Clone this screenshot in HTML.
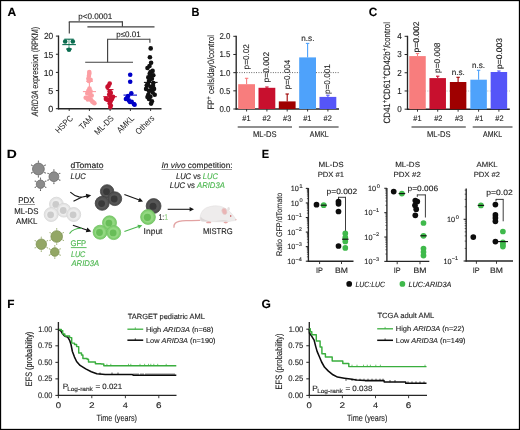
<!DOCTYPE html>
<html><head><meta charset="utf-8"><style>
html,body{margin:0;padding:0;background:#fff;}
body{width:520px;height:430px;overflow:hidden;}
svg{display:block;font-family:"Liberation Sans", sans-serif;will-change:transform;text-rendering:geometricPrecision;}
</style></head><body>
<svg width="520" height="430" viewBox="0 0 520 430">
<rect x="0" y="0" width="520" height="430" fill="#fff"/>
<text x="7.40" y="15.80" font-size="12" fill="#000" stroke="#000" stroke-width="0.12" textLength="8.72" lengthAdjust="spacingAndGlyphs"><tspan font-weight="bold">A</tspan></text>
<text x="191.57" y="15.80" font-size="12" fill="#000" stroke="#000" stroke-width="0.12" textLength="7.93" lengthAdjust="spacingAndGlyphs"><tspan font-weight="bold">B</tspan></text>
<text x="368.72" y="15.80" font-size="12" fill="#000" stroke="#000" stroke-width="0.12" textLength="8.51" lengthAdjust="spacingAndGlyphs"><tspan font-weight="bold">C</tspan></text>
<text x="6.77" y="157.80" font-size="12" fill="#000" stroke="#000" stroke-width="0.12" textLength="10.01" lengthAdjust="spacingAndGlyphs"><tspan font-weight="bold">D</tspan></text>
<text x="261.76" y="157.80" font-size="12" fill="#000" stroke="#000" stroke-width="0.12" textLength="7.37" lengthAdjust="spacingAndGlyphs"><tspan font-weight="bold">E</tspan></text>
<text x="7.31" y="307.70" font-size="12" fill="#000" stroke="#000" stroke-width="0.12" textLength="7.22" lengthAdjust="spacingAndGlyphs"><tspan font-weight="bold">F</tspan></text>
<text x="261.61" y="307.80" font-size="12" fill="#000" stroke="#000" stroke-width="0.12" textLength="9.34" lengthAdjust="spacingAndGlyphs"><tspan font-weight="bold">G</tspan></text>
<line x1="58.50" y1="35.50" x2="58.50" y2="109.30" stroke="#262626" stroke-width="1.35"/>
<line x1="57.90" y1="108.70" x2="161.50" y2="108.70" stroke="#262626" stroke-width="1.35"/>
<line x1="55.90" y1="108.70" x2="58.50" y2="108.70" stroke="#262626" stroke-width="1.0"/>
<text x="48.25" y="111.95" font-size="8.8" fill="#1e1e1e" stroke="#1e1e1e" stroke-width="0.12" textLength="5.00" lengthAdjust="spacingAndGlyphs">0</text>
<line x1="55.90" y1="90.55" x2="58.50" y2="90.55" stroke="#262626" stroke-width="1.0"/>
<text x="48.24" y="93.80" font-size="8.8" fill="#1e1e1e" stroke="#1e1e1e" stroke-width="0.12" textLength="5.04" lengthAdjust="spacingAndGlyphs">5</text>
<line x1="55.90" y1="72.40" x2="58.50" y2="72.40" stroke="#262626" stroke-width="1.0"/>
<text x="43.64" y="75.65" font-size="8.8" fill="#1e1e1e" stroke="#1e1e1e" stroke-width="0.12" textLength="9.59" lengthAdjust="spacingAndGlyphs">10</text>
<line x1="55.90" y1="54.25" x2="58.50" y2="54.25" stroke="#262626" stroke-width="1.0"/>
<text x="43.64" y="57.50" font-size="8.8" fill="#1e1e1e" stroke="#1e1e1e" stroke-width="0.12" textLength="9.62" lengthAdjust="spacingAndGlyphs">15</text>
<line x1="55.90" y1="36.10" x2="58.50" y2="36.10" stroke="#262626" stroke-width="1.0"/>
<text x="43.88" y="39.35" font-size="8.8" fill="#1e1e1e" stroke="#1e1e1e" stroke-width="0.12" textLength="9.35" lengthAdjust="spacingAndGlyphs">20</text>
<line x1="69.20" y1="108.70" x2="69.20" y2="111.00" stroke="#262626" stroke-width="0.9"/>
<line x1="89.40" y1="108.70" x2="89.40" y2="111.00" stroke="#262626" stroke-width="0.9"/>
<line x1="110.10" y1="108.70" x2="110.10" y2="111.00" stroke="#262626" stroke-width="0.9"/>
<line x1="130.40" y1="108.70" x2="130.40" y2="111.00" stroke="#262626" stroke-width="0.9"/>
<line x1="150.60" y1="108.70" x2="150.60" y2="111.00" stroke="#262626" stroke-width="0.9"/>
<text x="0" y="0" font-size="8.6" fill="#1e1e1e" text-anchor="end" textLength="21.03" lengthAdjust="spacingAndGlyphs" transform="translate(73.50 118.90) rotate(-45)">HSPC</text>
<text x="0" y="0" font-size="8.6" fill="#1e1e1e" text-anchor="end" textLength="15.97" lengthAdjust="spacingAndGlyphs" transform="translate(93.70 118.90) rotate(-45)">TAM</text>
<text x="0" y="0" font-size="8.6" fill="#1e1e1e" text-anchor="end" textLength="23.55" lengthAdjust="spacingAndGlyphs" transform="translate(114.40 118.90) rotate(-45)">ML-DS</text>
<text x="0" y="0" font-size="8.6" fill="#1e1e1e" text-anchor="end" textLength="20.61" lengthAdjust="spacingAndGlyphs" transform="translate(134.70 118.90) rotate(-45)">AMKL</text>
<text x="0" y="0" font-size="8.6" fill="#1e1e1e" text-anchor="end" textLength="22.71" lengthAdjust="spacingAndGlyphs" transform="translate(154.90 118.90) rotate(-45)">Others</text>
<text x="0.35" y="0" font-size="9.3" fill="#1e1e1e" stroke="#1e1e1e" stroke-width="0.12" textLength="89.49" lengthAdjust="spacingAndGlyphs" transform="translate(38.00 116.70) rotate(-90)"><tspan font-style="italic">ARID3A</tspan> expression (RPKM)</text>
<line x1="69.30" y1="33.60" x2="69.30" y2="21.90" stroke="#404040" stroke-width="1.15"/>
<line x1="68.75" y1="21.90" x2="122.40" y2="21.90" stroke="#404040" stroke-width="1.15"/>
<line x1="122.40" y1="21.35" x2="122.40" y2="26.80" stroke="#404040" stroke-width="1.15"/>
<line x1="87.40" y1="26.80" x2="154.50" y2="26.80" stroke="#404040" stroke-width="1.15"/>
<text x="78.28" y="19.40" font-size="8.0" fill="#1e1e1e" stroke="#1e1e1e" stroke-width="0.12" textLength="34.12" lengthAdjust="spacingAndGlyphs">p&lt;0.0001</text>
<line x1="85.20" y1="62.20" x2="133.00" y2="62.20" stroke="#404040" stroke-width="1.15"/>
<line x1="107.60" y1="62.20" x2="107.60" y2="39.20" stroke="#404040" stroke-width="1.15"/>
<line x1="107.05" y1="39.20" x2="149.90" y2="39.20" stroke="#404040" stroke-width="1.15"/>
<line x1="149.90" y1="38.65" x2="149.90" y2="42.80" stroke="#404040" stroke-width="1.15"/>
<text x="116.18" y="36.70" font-size="8.0" fill="#1e1e1e" stroke="#1e1e1e" stroke-width="0.12" textLength="24.51" lengthAdjust="spacingAndGlyphs">p≤0.01</text>
<line x1="69.00" y1="39.10" x2="69.00" y2="49.60" stroke="#6fa894" stroke-width="1.1"/>
<line x1="64.30" y1="39.20" x2="73.70" y2="39.20" stroke="#0b6d50" stroke-width="1.1"/>
<circle cx="65.20" cy="41.50" r="2.3" fill="#0b6d50" stroke="none" stroke-width="0"/>
<circle cx="72.80" cy="41.50" r="2.3" fill="#0b6d50" stroke="none" stroke-width="0"/>
<circle cx="69.00" cy="49.80" r="2.3" fill="#0b6d50" stroke="none" stroke-width="0"/>
<line x1="66.00" y1="49.00" x2="72.00" y2="49.00" stroke="#0b6d50" stroke-width="1.1"/>
<line x1="62.30" y1="44.60" x2="75.90" y2="44.60" stroke="#0b6d50" stroke-width="1.1"/>
<line x1="89.40" y1="81.40" x2="89.40" y2="100.00" stroke="#fc9ea3" stroke-width="1.1"/>
<line x1="86.20" y1="81.40" x2="92.80" y2="81.40" stroke="#fc9ea3" stroke-width="1.1"/>
<circle cx="89.30" cy="72.10" r="2.3" fill="#fc9ea3" stroke="none" stroke-width="0"/>
<circle cx="89.30" cy="73.80" r="2.3" fill="#fc9ea3" stroke="none" stroke-width="0"/>
<circle cx="88.90" cy="75.90" r="2.3" fill="#fc9ea3" stroke="none" stroke-width="0"/>
<circle cx="88.40" cy="78.70" r="2.3" fill="#fc9ea3" stroke="none" stroke-width="0"/>
<circle cx="90.60" cy="79.80" r="2.3" fill="#fc9ea3" stroke="none" stroke-width="0"/>
<circle cx="88.90" cy="80.90" r="2.3" fill="#fc9ea3" stroke="none" stroke-width="0"/>
<circle cx="89.50" cy="88.50" r="2.3" fill="#fc9ea3" stroke="none" stroke-width="0"/>
<circle cx="88.40" cy="90.70" r="2.3" fill="#fc9ea3" stroke="none" stroke-width="0"/>
<circle cx="90.60" cy="91.30" r="2.3" fill="#fc9ea3" stroke="none" stroke-width="0"/>
<circle cx="87.30" cy="93.40" r="2.3" fill="#fc9ea3" stroke="none" stroke-width="0"/>
<circle cx="90.00" cy="94.00" r="2.3" fill="#fc9ea3" stroke="none" stroke-width="0"/>
<circle cx="91.70" cy="95.60" r="2.3" fill="#fc9ea3" stroke="none" stroke-width="0"/>
<circle cx="85.70" cy="97.80" r="2.3" fill="#fc9ea3" stroke="none" stroke-width="0"/>
<circle cx="88.90" cy="97.80" r="2.3" fill="#fc9ea3" stroke="none" stroke-width="0"/>
<circle cx="87.80" cy="99.50" r="2.3" fill="#fc9ea3" stroke="none" stroke-width="0"/>
<circle cx="91.10" cy="100.00" r="2.3" fill="#fc9ea3" stroke="none" stroke-width="0"/>
<circle cx="93.30" cy="102.20" r="2.3" fill="#fc9ea3" stroke="none" stroke-width="0"/>
<circle cx="94.40" cy="103.30" r="2.3" fill="#fc9ea3" stroke="none" stroke-width="0"/>
<circle cx="92.20" cy="101.60" r="2.3" fill="#fc9ea3" stroke="none" stroke-width="0"/>
<line x1="82.90" y1="91.60" x2="96.00" y2="91.60" stroke="#fc9ea3" stroke-width="1.1"/>
<line x1="110.10" y1="89.60" x2="110.10" y2="104.00" stroke="#c8102e" stroke-width="1.1"/>
<line x1="106.50" y1="89.60" x2="113.50" y2="89.60" stroke="#c8102e" stroke-width="1.1"/>
<circle cx="109.70" cy="83.60" r="2.3" fill="#c8102e" stroke="none" stroke-width="0"/>
<circle cx="108.60" cy="85.80" r="2.3" fill="#c8102e" stroke="none" stroke-width="0"/>
<circle cx="107.50" cy="86.90" r="2.3" fill="#c8102e" stroke="none" stroke-width="0"/>
<circle cx="109.70" cy="91.30" r="2.3" fill="#c8102e" stroke="none" stroke-width="0"/>
<circle cx="110.80" cy="92.90" r="2.3" fill="#c8102e" stroke="none" stroke-width="0"/>
<circle cx="109.20" cy="94.50" r="2.3" fill="#c8102e" stroke="none" stroke-width="0"/>
<circle cx="113.00" cy="96.70" r="2.3" fill="#c8102e" stroke="none" stroke-width="0"/>
<circle cx="110.80" cy="97.30" r="2.3" fill="#c8102e" stroke="none" stroke-width="0"/>
<circle cx="105.90" cy="98.90" r="2.3" fill="#c8102e" stroke="none" stroke-width="0"/>
<circle cx="108.10" cy="100.00" r="2.3" fill="#c8102e" stroke="none" stroke-width="0"/>
<circle cx="110.80" cy="101.10" r="2.3" fill="#c8102e" stroke="none" stroke-width="0"/>
<circle cx="109.70" cy="103.30" r="2.3" fill="#c8102e" stroke="none" stroke-width="0"/>
<circle cx="110.80" cy="105.50" r="2.3" fill="#c8102e" stroke="none" stroke-width="0"/>
<circle cx="110.30" cy="107.10" r="2.3" fill="#c8102e" stroke="none" stroke-width="0"/>
<circle cx="107.00" cy="99.50" r="2.3" fill="#c8102e" stroke="none" stroke-width="0"/>
<circle cx="112.00" cy="99.00" r="2.3" fill="#c8102e" stroke="none" stroke-width="0"/>
<line x1="103.20" y1="96.70" x2="116.80" y2="96.70" stroke="#c8102e" stroke-width="1.1"/>
<circle cx="130.20" cy="74.80" r="2.3" fill="#0000c8" stroke="none" stroke-width="0"/>
<circle cx="130.20" cy="81.70" r="2.3" fill="#0000c8" stroke="none" stroke-width="0"/>
<circle cx="131.30" cy="93.20" r="2.3" fill="#0000c8" stroke="none" stroke-width="0"/>
<circle cx="128.10" cy="96.10" r="2.3" fill="#0000c8" stroke="none" stroke-width="0"/>
<circle cx="125.90" cy="99.00" r="2.3" fill="#0000c8" stroke="none" stroke-width="0"/>
<circle cx="128.80" cy="100.40" r="2.3" fill="#0000c8" stroke="none" stroke-width="0"/>
<circle cx="131.70" cy="101.90" r="2.3" fill="#0000c8" stroke="none" stroke-width="0"/>
<circle cx="133.90" cy="104.00" r="2.3" fill="#0000c8" stroke="none" stroke-width="0"/>
<circle cx="134.60" cy="104.80" r="2.3" fill="#0000c8" stroke="none" stroke-width="0"/>
<circle cx="127.00" cy="98.00" r="2.3" fill="#0000c8" stroke="none" stroke-width="0"/>
<circle cx="130.00" cy="102.00" r="2.3" fill="#0000c8" stroke="none" stroke-width="0"/>
<line x1="123.50" y1="95.10" x2="137.00" y2="95.10" stroke="#0000c8" stroke-width="1.1"/>
<circle cx="150.70" cy="48.40" r="2.3" fill="#111" stroke="none" stroke-width="0"/>
<circle cx="149.90" cy="57.20" r="2.3" fill="#111" stroke="none" stroke-width="0"/>
<circle cx="151.10" cy="62.70" r="2.3" fill="#111" stroke="none" stroke-width="0"/>
<circle cx="147.50" cy="68.00" r="2.3" fill="#111" stroke="none" stroke-width="0"/>
<circle cx="152.60" cy="70.90" r="2.3" fill="#111" stroke="none" stroke-width="0"/>
<circle cx="149.70" cy="73.80" r="2.3" fill="#111" stroke="none" stroke-width="0"/>
<circle cx="153.30" cy="75.20" r="2.3" fill="#111" stroke="none" stroke-width="0"/>
<circle cx="148.30" cy="77.40" r="2.3" fill="#111" stroke="none" stroke-width="0"/>
<circle cx="151.90" cy="78.80" r="2.3" fill="#111" stroke="none" stroke-width="0"/>
<circle cx="149.00" cy="81.00" r="2.3" fill="#111" stroke="none" stroke-width="0"/>
<circle cx="153.30" cy="83.10" r="2.3" fill="#111" stroke="none" stroke-width="0"/>
<circle cx="146.80" cy="85.30" r="2.3" fill="#111" stroke="none" stroke-width="0"/>
<circle cx="150.40" cy="86.70" r="2.3" fill="#111" stroke="none" stroke-width="0"/>
<circle cx="146.10" cy="88.90" r="2.3" fill="#111" stroke="none" stroke-width="0"/>
<circle cx="154.00" cy="88.90" r="2.3" fill="#111" stroke="none" stroke-width="0"/>
<circle cx="149.00" cy="91.10" r="2.3" fill="#111" stroke="none" stroke-width="0"/>
<circle cx="152.60" cy="92.50" r="2.3" fill="#111" stroke="none" stroke-width="0"/>
<circle cx="148.30" cy="94.70" r="2.3" fill="#111" stroke="none" stroke-width="0"/>
<circle cx="154.70" cy="94.70" r="2.3" fill="#111" stroke="none" stroke-width="0"/>
<circle cx="150.40" cy="96.80" r="2.3" fill="#111" stroke="none" stroke-width="0"/>
<circle cx="149.00" cy="99.00" r="2.3" fill="#111" stroke="none" stroke-width="0"/>
<circle cx="151.90" cy="101.20" r="2.3" fill="#111" stroke="none" stroke-width="0"/>
<circle cx="151.10" cy="103.60" r="2.3" fill="#111" stroke="none" stroke-width="0"/>
<circle cx="150.00" cy="79.00" r="2.3" fill="#111" stroke="none" stroke-width="0"/>
<circle cx="152.00" cy="90.00" r="2.3" fill="#111" stroke="none" stroke-width="0"/>
<circle cx="148.00" cy="84.00" r="2.3" fill="#111" stroke="none" stroke-width="0"/>
<circle cx="150.50" cy="72.00" r="2.3" fill="#111" stroke="none" stroke-width="0"/>
<circle cx="147.50" cy="97.00" r="2.3" fill="#111" stroke="none" stroke-width="0"/>
<circle cx="153.00" cy="86.00" r="2.3" fill="#111" stroke="none" stroke-width="0"/>
<circle cx="149.50" cy="66.00" r="2.3" fill="#111" stroke="none" stroke-width="0"/>
<circle cx="151.00" cy="75.00" r="2.3" fill="#111" stroke="none" stroke-width="0"/>
<line x1="143.90" y1="82.40" x2="157.60" y2="82.40" stroke="#111" stroke-width="1.1"/>
<line x1="236.20" y1="35.80" x2="236.20" y2="109.60" stroke="#262626" stroke-width="1.35"/>
<line x1="235.60" y1="109.00" x2="339.00" y2="109.00" stroke="#262626" stroke-width="1.35"/>
<line x1="233.30" y1="109.00" x2="236.20" y2="109.00" stroke="#262626" stroke-width="1.0"/>
<text x="219.42" y="111.90" font-size="8.5" fill="#1e1e1e" stroke="#1e1e1e" stroke-width="0.12" textLength="10.99" lengthAdjust="spacingAndGlyphs">0.0</text>
<line x1="233.30" y1="90.83" x2="236.20" y2="90.83" stroke="#262626" stroke-width="1.0"/>
<text x="219.44" y="93.73" font-size="8.5" fill="#1e1e1e" stroke="#1e1e1e" stroke-width="0.12" textLength="10.99" lengthAdjust="spacingAndGlyphs">0.5</text>
<line x1="233.30" y1="72.65" x2="236.20" y2="72.65" stroke="#262626" stroke-width="1.0"/>
<text x="219.42" y="75.55" font-size="8.5" fill="#1e1e1e" stroke="#1e1e1e" stroke-width="0.12" textLength="10.99" lengthAdjust="spacingAndGlyphs">1.0</text>
<line x1="233.30" y1="54.47" x2="236.20" y2="54.47" stroke="#262626" stroke-width="1.0"/>
<text x="219.44" y="57.37" font-size="8.5" fill="#1e1e1e" stroke="#1e1e1e" stroke-width="0.12" textLength="10.99" lengthAdjust="spacingAndGlyphs">1.5</text>
<line x1="233.30" y1="36.30" x2="236.20" y2="36.30" stroke="#262626" stroke-width="1.0"/>
<text x="219.42" y="39.20" font-size="8.5" fill="#1e1e1e" stroke="#1e1e1e" stroke-width="0.12" textLength="10.99" lengthAdjust="spacingAndGlyphs">2.0</text>
<line x1="236.90" y1="72.60" x2="339.00" y2="72.60" stroke="#444" stroke-width="0.9" stroke-dasharray="0.9 1.5"/>
<rect x="238.20" y="84.20" width="16.80" height="24.80" fill="#f87d7d"/>
<line x1="246.60" y1="78.30" x2="246.60" y2="84.20" stroke="#f87d7d" stroke-width="1.1"/>
<line x1="244.90" y1="78.30" x2="248.30" y2="78.30" stroke="#f87d7d" stroke-width="1.1"/>
<line x1="246.60" y1="109.00" x2="246.60" y2="111.50" stroke="#262626" stroke-width="0.9"/>
<rect x="258.50" y="87.80" width="16.80" height="21.20" fill="#c8102e"/>
<line x1="266.90" y1="87.00" x2="266.90" y2="87.80" stroke="#c8102e" stroke-width="1.1"/>
<line x1="265.20" y1="87.00" x2="268.60" y2="87.00" stroke="#c8102e" stroke-width="1.1"/>
<line x1="266.90" y1="109.00" x2="266.90" y2="111.50" stroke="#262626" stroke-width="0.9"/>
<rect x="278.80" y="101.40" width="16.80" height="7.60" fill="#9f0000"/>
<line x1="287.20" y1="94.00" x2="287.20" y2="101.40" stroke="#9f0000" stroke-width="1.1"/>
<line x1="285.50" y1="94.00" x2="288.90" y2="94.00" stroke="#9f0000" stroke-width="1.1"/>
<line x1="287.20" y1="109.00" x2="287.20" y2="111.50" stroke="#262626" stroke-width="0.9"/>
<rect x="299.20" y="57.40" width="16.80" height="51.60" fill="#4ea2fb"/>
<line x1="307.60" y1="43.40" x2="307.60" y2="57.40" stroke="#4ea2fb" stroke-width="1.1"/>
<line x1="305.90" y1="43.40" x2="309.30" y2="43.40" stroke="#4ea2fb" stroke-width="1.1"/>
<line x1="307.60" y1="109.00" x2="307.60" y2="111.50" stroke="#262626" stroke-width="0.9"/>
<rect x="319.50" y="96.90" width="16.80" height="12.10" fill="#5555f8"/>
<line x1="327.90" y1="95.20" x2="327.90" y2="96.90" stroke="#5555f8" stroke-width="1.1"/>
<line x1="326.20" y1="95.20" x2="329.60" y2="95.20" stroke="#5555f8" stroke-width="1.1"/>
<line x1="327.90" y1="109.00" x2="327.90" y2="111.50" stroke="#262626" stroke-width="0.9"/>
<text x="242.37" y="121.00" font-size="8.0" fill="#1e1e1e" stroke="#1e1e1e" stroke-width="0.12" textLength="8.19" lengthAdjust="spacingAndGlyphs">#1</text>
<text x="262.57" y="121.00" font-size="8.0" fill="#1e1e1e" stroke="#1e1e1e" stroke-width="0.12" textLength="8.20" lengthAdjust="spacingAndGlyphs">#2</text>
<text x="283.07" y="121.00" font-size="8.0" fill="#1e1e1e" stroke="#1e1e1e" stroke-width="0.12" textLength="8.15" lengthAdjust="spacingAndGlyphs">#3</text>
<text x="303.27" y="121.00" font-size="8.0" fill="#1e1e1e" stroke="#1e1e1e" stroke-width="0.12" textLength="8.19" lengthAdjust="spacingAndGlyphs">#1</text>
<text x="323.57" y="121.00" font-size="8.0" fill="#1e1e1e" stroke="#1e1e1e" stroke-width="0.12" textLength="8.20" lengthAdjust="spacingAndGlyphs">#2</text>
<line x1="237.70" y1="127.00" x2="292.00" y2="127.00" stroke="#6a6a6a" stroke-width="1.5"/>
<line x1="298.90" y1="127.00" x2="338.60" y2="127.00" stroke="#6a6a6a" stroke-width="1.5"/>
<text x="252.88" y="136.50" font-size="8.2" fill="#1e1e1e" stroke="#1e1e1e" stroke-width="0.12" textLength="23.67" lengthAdjust="spacingAndGlyphs">ML-DS</text>
<text x="309.79" y="136.50" font-size="8.2" fill="#1e1e1e" stroke="#1e1e1e" stroke-width="0.12" textLength="18.94" lengthAdjust="spacingAndGlyphs">AMKL</text>
<text x="-0.53" y="0" font-size="8.2" fill="#1e1e1e" stroke="#1e1e1e" stroke-width="0.12" textLength="25.34" lengthAdjust="spacingAndGlyphs" transform="translate(249.10 68.90) rotate(-90)">p=0.02</text>
<text x="-0.54" y="0" font-size="8.2" fill="#1e1e1e" stroke="#1e1e1e" stroke-width="0.12" textLength="30.67" lengthAdjust="spacingAndGlyphs" transform="translate(269.40 81.90) rotate(-90)">p=0.002</text>
<text x="-0.52" y="0" font-size="8.2" fill="#1e1e1e" stroke="#1e1e1e" stroke-width="0.12" textLength="29.56" lengthAdjust="spacingAndGlyphs" transform="translate(289.80 88.80) rotate(-90)">p=0.004</text>
<text x="-0.53" y="0" font-size="8.2" fill="#1e1e1e" stroke="#1e1e1e" stroke-width="0.12" textLength="29.93" lengthAdjust="spacingAndGlyphs" transform="translate(329.80 93.50) rotate(-90)">p=0.001</text>
<text x="301.26" y="41.10" font-size="8.2" fill="#1e1e1e" stroke="#1e1e1e" stroke-width="0.12" textLength="13.19" lengthAdjust="spacingAndGlyphs">n.s.</text>
<text x="-0.63" y="0" font-size="9.2" fill="#1e1e1e" stroke="#1e1e1e" stroke-width="0.12" textLength="74.54" lengthAdjust="spacingAndGlyphs" transform="translate(213.80 108.90) rotate(-90)">FP<tspan font-size="7.18" dy="-3.30">+</tspan><tspan dy="3.30"> cells/day0/control</tspan></text>
<line x1="407.50" y1="35.80" x2="407.50" y2="109.80" stroke="#262626" stroke-width="1.35"/>
<line x1="406.90" y1="109.20" x2="509.80" y2="109.20" stroke="#262626" stroke-width="1.35"/>
<line x1="404.60" y1="109.20" x2="407.50" y2="109.20" stroke="#262626" stroke-width="1.0"/>
<text x="397.22" y="112.10" font-size="8.7" fill="#1e1e1e" stroke="#1e1e1e" stroke-width="0.12" textLength="4.50" lengthAdjust="spacingAndGlyphs">0</text>
<line x1="404.60" y1="90.97" x2="407.50" y2="90.97" stroke="#262626" stroke-width="1.0"/>
<text x="397.30" y="93.88" font-size="8.7" fill="#1e1e1e" stroke="#1e1e1e" stroke-width="0.12" textLength="4.50" lengthAdjust="spacingAndGlyphs">1</text>
<line x1="404.60" y1="72.75" x2="407.50" y2="72.75" stroke="#262626" stroke-width="1.0"/>
<text x="397.31" y="75.65" font-size="8.7" fill="#1e1e1e" stroke="#1e1e1e" stroke-width="0.12" textLength="4.50" lengthAdjust="spacingAndGlyphs">2</text>
<line x1="404.60" y1="54.52" x2="407.50" y2="54.52" stroke="#262626" stroke-width="1.0"/>
<text x="397.26" y="57.42" font-size="8.7" fill="#1e1e1e" stroke="#1e1e1e" stroke-width="0.12" textLength="4.50" lengthAdjust="spacingAndGlyphs">3</text>
<line x1="404.60" y1="36.30" x2="407.50" y2="36.30" stroke="#262626" stroke-width="1.0"/>
<text x="397.14" y="39.20" font-size="8.7" fill="#1e1e1e" stroke="#1e1e1e" stroke-width="0.12" textLength="4.50" lengthAdjust="spacingAndGlyphs">4</text>
<line x1="408.20" y1="91.00" x2="509.80" y2="91.00" stroke="#aaa" stroke-width="0.9" stroke-dasharray="0.9 1.5"/>
<rect x="409.25" y="56.10" width="16.50" height="53.10" fill="#f87d7d"/>
<line x1="417.50" y1="53.50" x2="417.50" y2="56.10" stroke="#f87d7d" stroke-width="1.1"/>
<line x1="415.80" y1="53.50" x2="419.20" y2="53.50" stroke="#f87d7d" stroke-width="1.1"/>
<line x1="417.50" y1="109.20" x2="417.50" y2="111.70" stroke="#262626" stroke-width="0.9"/>
<rect x="429.45" y="78.10" width="16.50" height="31.10" fill="#c8102e"/>
<line x1="437.70" y1="76.20" x2="437.70" y2="78.10" stroke="#c8102e" stroke-width="1.1"/>
<line x1="436.00" y1="76.20" x2="439.40" y2="76.20" stroke="#c8102e" stroke-width="1.1"/>
<line x1="437.70" y1="109.20" x2="437.70" y2="111.70" stroke="#262626" stroke-width="0.9"/>
<rect x="449.85" y="82.00" width="16.50" height="27.20" fill="#9f0000"/>
<line x1="458.10" y1="77.30" x2="458.10" y2="82.00" stroke="#9f0000" stroke-width="1.1"/>
<line x1="456.40" y1="77.30" x2="459.80" y2="77.30" stroke="#9f0000" stroke-width="1.1"/>
<line x1="458.10" y1="109.20" x2="458.10" y2="111.70" stroke="#262626" stroke-width="0.9"/>
<rect x="470.35" y="79.70" width="16.50" height="29.50" fill="#4ea2fb"/>
<line x1="478.60" y1="70.30" x2="478.60" y2="79.70" stroke="#4ea2fb" stroke-width="1.1"/>
<line x1="476.90" y1="70.30" x2="480.30" y2="70.30" stroke="#4ea2fb" stroke-width="1.1"/>
<line x1="478.60" y1="109.20" x2="478.60" y2="111.70" stroke="#262626" stroke-width="0.9"/>
<rect x="490.65" y="72.00" width="16.50" height="37.20" fill="#5555f8"/>
<line x1="498.90" y1="71.00" x2="498.90" y2="72.00" stroke="#5555f8" stroke-width="1.1"/>
<line x1="497.20" y1="71.00" x2="500.60" y2="71.00" stroke="#5555f8" stroke-width="1.1"/>
<line x1="498.90" y1="109.20" x2="498.90" y2="111.70" stroke="#262626" stroke-width="0.9"/>
<text x="413.37" y="121.00" font-size="8.0" fill="#1e1e1e" stroke="#1e1e1e" stroke-width="0.12" textLength="8.19" lengthAdjust="spacingAndGlyphs">#1</text>
<text x="434.17" y="121.00" font-size="8.0" fill="#1e1e1e" stroke="#1e1e1e" stroke-width="0.12" textLength="8.20" lengthAdjust="spacingAndGlyphs">#2</text>
<text x="454.97" y="121.00" font-size="8.0" fill="#1e1e1e" stroke="#1e1e1e" stroke-width="0.12" textLength="8.15" lengthAdjust="spacingAndGlyphs">#3</text>
<text x="475.07" y="121.00" font-size="8.0" fill="#1e1e1e" stroke="#1e1e1e" stroke-width="0.12" textLength="8.19" lengthAdjust="spacingAndGlyphs">#1</text>
<text x="495.37" y="121.00" font-size="8.0" fill="#1e1e1e" stroke="#1e1e1e" stroke-width="0.12" textLength="8.20" lengthAdjust="spacingAndGlyphs">#2</text>
<line x1="411.50" y1="127.00" x2="465.80" y2="127.00" stroke="#6a6a6a" stroke-width="1.5"/>
<line x1="472.70" y1="127.00" x2="512.50" y2="127.00" stroke="#6a6a6a" stroke-width="1.5"/>
<text x="426.98" y="136.50" font-size="8.2" fill="#1e1e1e" stroke="#1e1e1e" stroke-width="0.12" textLength="23.57" lengthAdjust="spacingAndGlyphs">ML-DS</text>
<text x="482.99" y="136.50" font-size="8.2" fill="#1e1e1e" stroke="#1e1e1e" stroke-width="0.12" textLength="19.05" lengthAdjust="spacingAndGlyphs">AMKL</text>
<text x="-0.55" y="0" font-size="8.2" fill="#1e1e1e" stroke="#1e1e1e" stroke-width="0.12" textLength="31.18" lengthAdjust="spacingAndGlyphs" transform="translate(418.60 52.00) rotate(-90)">p=0.002</text>
<text x="-0.54" y="0" font-size="8.2" fill="#1e1e1e" stroke="#1e1e1e" stroke-width="0.12" textLength="30.40" lengthAdjust="spacingAndGlyphs" transform="translate(439.80 72.40) rotate(-90)">p=0.008</text>
<text x="-0.55" y="0" font-size="8.2" fill="#1e1e1e" stroke="#1e1e1e" stroke-width="0.12" textLength="31.13" lengthAdjust="spacingAndGlyphs" transform="translate(501.80 68.50) rotate(-90)">p=0.003</text>
<text x="451.66" y="75.20" font-size="8.2" fill="#1e1e1e" stroke="#1e1e1e" stroke-width="0.12" textLength="13.08" lengthAdjust="spacingAndGlyphs">n.s.</text>
<text x="471.96" y="68.20" font-size="8.2" fill="#1e1e1e" stroke="#1e1e1e" stroke-width="0.12" textLength="13.08" lengthAdjust="spacingAndGlyphs">n.s.</text>
<text x="-0.40" y="0" font-size="9.2" fill="#1e1e1e" stroke="#1e1e1e" stroke-width="0.12" textLength="101.33" lengthAdjust="spacingAndGlyphs" transform="translate(390.00 123.00) rotate(-90)">CD41<tspan font-size="7.18" dy="-3.30">+</tspan><tspan dy="3.30">CD61</tspan><tspan font-size="7.18" dy="-3.30">+</tspan><tspan dy="3.30">CD42b</tspan><tspan font-size="7.18" dy="-3.30">+</tspan><tspan dy="3.30">/control</tspan></text>
<line x1="38.40" y1="163.10" x2="38.40" y2="161.10" stroke="#5e5e5e" stroke-width="0.7"/>
<circle cx="38.40" cy="161.10" r="0.6" fill="#5e5e5e" stroke="none" stroke-width="0"/>
<line x1="33.29" y1="166.05" x2="31.56" y2="165.05" stroke="#5e5e5e" stroke-width="0.7"/>
<circle cx="31.56" cy="165.05" r="0.6" fill="#5e5e5e" stroke="none" stroke-width="0"/>
<line x1="33.29" y1="171.95" x2="31.56" y2="172.95" stroke="#5e5e5e" stroke-width="0.7"/>
<circle cx="31.56" cy="172.95" r="0.6" fill="#5e5e5e" stroke="none" stroke-width="0"/>
<line x1="38.40" y1="174.90" x2="38.40" y2="176.90" stroke="#5e5e5e" stroke-width="0.7"/>
<circle cx="38.40" cy="176.90" r="0.6" fill="#5e5e5e" stroke="none" stroke-width="0"/>
<line x1="43.51" y1="171.95" x2="45.24" y2="172.95" stroke="#5e5e5e" stroke-width="0.7"/>
<circle cx="45.24" cy="172.95" r="0.6" fill="#5e5e5e" stroke="none" stroke-width="0"/>
<line x1="43.51" y1="166.05" x2="45.24" y2="165.05" stroke="#5e5e5e" stroke-width="0.7"/>
<circle cx="45.24" cy="165.05" r="0.6" fill="#5e5e5e" stroke="none" stroke-width="0"/>
<circle cx="38.40" cy="169.00" r="5.9" fill="#8b8b8b" stroke="#6c6c6c" stroke-width="0.8"/>
<line x1="53.90" y1="171.80" x2="53.90" y2="169.80" stroke="#5e5e5e" stroke-width="0.7"/>
<circle cx="53.90" cy="169.80" r="0.6" fill="#5e5e5e" stroke="none" stroke-width="0"/>
<line x1="49.66" y1="174.25" x2="47.92" y2="173.25" stroke="#5e5e5e" stroke-width="0.7"/>
<circle cx="47.92" cy="173.25" r="0.6" fill="#5e5e5e" stroke="none" stroke-width="0"/>
<line x1="49.66" y1="179.15" x2="47.92" y2="180.15" stroke="#5e5e5e" stroke-width="0.7"/>
<circle cx="47.92" cy="180.15" r="0.6" fill="#5e5e5e" stroke="none" stroke-width="0"/>
<line x1="53.90" y1="181.60" x2="53.90" y2="183.60" stroke="#5e5e5e" stroke-width="0.7"/>
<circle cx="53.90" cy="183.60" r="0.6" fill="#5e5e5e" stroke="none" stroke-width="0"/>
<line x1="58.14" y1="179.15" x2="59.88" y2="180.15" stroke="#5e5e5e" stroke-width="0.7"/>
<circle cx="59.88" cy="180.15" r="0.6" fill="#5e5e5e" stroke="none" stroke-width="0"/>
<line x1="58.14" y1="174.25" x2="59.88" y2="173.25" stroke="#5e5e5e" stroke-width="0.7"/>
<circle cx="59.88" cy="173.25" r="0.6" fill="#5e5e5e" stroke="none" stroke-width="0"/>
<circle cx="53.90" cy="176.70" r="4.9" fill="#8b8b8b" stroke="#6c6c6c" stroke-width="0.8"/>
<line x1="40.50" y1="180.00" x2="40.50" y2="178.00" stroke="#5e5e5e" stroke-width="0.7"/>
<circle cx="40.50" cy="178.00" r="0.6" fill="#5e5e5e" stroke="none" stroke-width="0"/>
<line x1="36.86" y1="182.10" x2="35.13" y2="181.10" stroke="#5e5e5e" stroke-width="0.7"/>
<circle cx="35.13" cy="181.10" r="0.6" fill="#5e5e5e" stroke="none" stroke-width="0"/>
<line x1="36.86" y1="186.30" x2="35.13" y2="187.30" stroke="#5e5e5e" stroke-width="0.7"/>
<circle cx="35.13" cy="187.30" r="0.6" fill="#5e5e5e" stroke="none" stroke-width="0"/>
<line x1="40.50" y1="188.40" x2="40.50" y2="190.40" stroke="#5e5e5e" stroke-width="0.7"/>
<circle cx="40.50" cy="190.40" r="0.6" fill="#5e5e5e" stroke="none" stroke-width="0"/>
<line x1="44.14" y1="186.30" x2="45.87" y2="187.30" stroke="#5e5e5e" stroke-width="0.7"/>
<circle cx="45.87" cy="187.30" r="0.6" fill="#5e5e5e" stroke="none" stroke-width="0"/>
<line x1="44.14" y1="182.10" x2="45.87" y2="181.10" stroke="#5e5e5e" stroke-width="0.7"/>
<circle cx="45.87" cy="181.10" r="0.6" fill="#5e5e5e" stroke="none" stroke-width="0"/>
<circle cx="40.50" cy="184.20" r="4.2" fill="#8b8b8b" stroke="#6c6c6c" stroke-width="0.8"/>
<line x1="56.70" y1="230.70" x2="56.70" y2="228.70" stroke="#a9b886" stroke-width="0.7"/>
<circle cx="56.70" cy="228.70" r="0.6" fill="#a9b886" stroke="none" stroke-width="0"/>
<line x1="51.68" y1="233.60" x2="49.95" y2="232.60" stroke="#a9b886" stroke-width="0.7"/>
<circle cx="49.95" cy="232.60" r="0.6" fill="#a9b886" stroke="none" stroke-width="0"/>
<line x1="51.68" y1="239.40" x2="49.95" y2="240.40" stroke="#a9b886" stroke-width="0.7"/>
<circle cx="49.95" cy="240.40" r="0.6" fill="#a9b886" stroke="none" stroke-width="0"/>
<line x1="56.70" y1="242.30" x2="56.70" y2="244.30" stroke="#a9b886" stroke-width="0.7"/>
<circle cx="56.70" cy="244.30" r="0.6" fill="#a9b886" stroke="none" stroke-width="0"/>
<line x1="61.72" y1="239.40" x2="63.45" y2="240.40" stroke="#a9b886" stroke-width="0.7"/>
<circle cx="63.45" cy="240.40" r="0.6" fill="#a9b886" stroke="none" stroke-width="0"/>
<line x1="61.72" y1="233.60" x2="63.45" y2="232.60" stroke="#a9b886" stroke-width="0.7"/>
<circle cx="63.45" cy="232.60" r="0.6" fill="#a9b886" stroke="none" stroke-width="0"/>
<circle cx="56.70" cy="236.50" r="5.8" fill="#93a765" stroke="#7e9353" stroke-width="0.8"/>
<line x1="41.30" y1="239.00" x2="41.30" y2="237.00" stroke="#a9b886" stroke-width="0.7"/>
<circle cx="41.30" cy="237.00" r="0.6" fill="#a9b886" stroke="none" stroke-width="0"/>
<line x1="36.80" y1="241.60" x2="35.06" y2="240.60" stroke="#a9b886" stroke-width="0.7"/>
<circle cx="35.06" cy="240.60" r="0.6" fill="#a9b886" stroke="none" stroke-width="0"/>
<line x1="36.80" y1="246.80" x2="35.06" y2="247.80" stroke="#a9b886" stroke-width="0.7"/>
<circle cx="35.06" cy="247.80" r="0.6" fill="#a9b886" stroke="none" stroke-width="0"/>
<line x1="41.30" y1="249.40" x2="41.30" y2="251.40" stroke="#a9b886" stroke-width="0.7"/>
<circle cx="41.30" cy="251.40" r="0.6" fill="#a9b886" stroke="none" stroke-width="0"/>
<line x1="45.80" y1="246.80" x2="47.54" y2="247.80" stroke="#a9b886" stroke-width="0.7"/>
<circle cx="47.54" cy="247.80" r="0.6" fill="#a9b886" stroke="none" stroke-width="0"/>
<line x1="45.80" y1="241.60" x2="47.54" y2="240.60" stroke="#a9b886" stroke-width="0.7"/>
<circle cx="47.54" cy="240.60" r="0.6" fill="#a9b886" stroke="none" stroke-width="0"/>
<circle cx="41.30" cy="244.20" r="5.2" fill="#93a765" stroke="#7e9353" stroke-width="0.8"/>
<line x1="54.80" y1="247.70" x2="54.80" y2="245.70" stroke="#a9b886" stroke-width="0.7"/>
<circle cx="54.80" cy="245.70" r="0.6" fill="#a9b886" stroke="none" stroke-width="0"/>
<line x1="51.08" y1="249.85" x2="49.34" y2="248.85" stroke="#a9b886" stroke-width="0.7"/>
<circle cx="49.34" cy="248.85" r="0.6" fill="#a9b886" stroke="none" stroke-width="0"/>
<line x1="51.08" y1="254.15" x2="49.34" y2="255.15" stroke="#a9b886" stroke-width="0.7"/>
<circle cx="49.34" cy="255.15" r="0.6" fill="#a9b886" stroke="none" stroke-width="0"/>
<line x1="54.80" y1="256.30" x2="54.80" y2="258.30" stroke="#a9b886" stroke-width="0.7"/>
<circle cx="54.80" cy="258.30" r="0.6" fill="#a9b886" stroke="none" stroke-width="0"/>
<line x1="58.52" y1="254.15" x2="60.26" y2="255.15" stroke="#a9b886" stroke-width="0.7"/>
<circle cx="60.26" cy="255.15" r="0.6" fill="#a9b886" stroke="none" stroke-width="0"/>
<line x1="58.52" y1="249.85" x2="60.26" y2="248.85" stroke="#a9b886" stroke-width="0.7"/>
<circle cx="60.26" cy="248.85" r="0.6" fill="#a9b886" stroke="none" stroke-width="0"/>
<circle cx="54.80" cy="252.00" r="4.3" fill="#93a765" stroke="#7e9353" stroke-width="0.8"/>
<circle cx="56.40" cy="204.10" r="6.9" fill="#e4e4e4" stroke="#d6d6d6" stroke-width="0.8"/>
<circle cx="56.40" cy="204.10" r="5.2" fill="#ededed" stroke="none" stroke-width="0"/>
<circle cx="55.80" cy="204.40" r="3.4" fill="#cbcbcb" stroke="none" stroke-width="0"/>
<circle cx="63.80" cy="210.20" r="6.9" fill="#e4e4e4" stroke="#d6d6d6" stroke-width="0.8"/>
<circle cx="63.80" cy="210.20" r="5.2" fill="#ededed" stroke="none" stroke-width="0"/>
<circle cx="63.20" cy="210.50" r="3.4" fill="#cbcbcb" stroke="none" stroke-width="0"/>
<circle cx="51.20" cy="214.50" r="7" fill="#e4e4e4" stroke="#d6d6d6" stroke-width="0.8"/>
<circle cx="51.20" cy="214.50" r="5.3" fill="#ededed" stroke="none" stroke-width="0"/>
<circle cx="50.60" cy="214.80" r="3.4" fill="#cbcbcb" stroke="none" stroke-width="0"/>
<circle cx="73.70" cy="214.50" r="7" fill="#e4e4e4" stroke="#d6d6d6" stroke-width="0.8"/>
<circle cx="73.70" cy="214.50" r="5.3" fill="#ededed" stroke="none" stroke-width="0"/>
<circle cx="73.10" cy="214.80" r="3.4" fill="#cbcbcb" stroke="none" stroke-width="0"/>
<circle cx="107.10" cy="191.40" r="6.7" fill="#505050" stroke="#404040" stroke-width="0.8"/>
<circle cx="107.10" cy="191.40" r="5.0" fill="#575757" stroke="none" stroke-width="0"/>
<circle cx="106.50" cy="191.70" r="3.4" fill="#393939" stroke="none" stroke-width="0"/>
<circle cx="114.80" cy="198.70" r="6.9" fill="#505050" stroke="#404040" stroke-width="0.8"/>
<circle cx="114.80" cy="198.70" r="5.2" fill="#575757" stroke="none" stroke-width="0"/>
<circle cx="114.20" cy="199.00" r="3.4" fill="#393939" stroke="none" stroke-width="0"/>
<circle cx="102.20" cy="203.30" r="7" fill="#505050" stroke="#404040" stroke-width="0.8"/>
<circle cx="102.20" cy="203.30" r="5.3" fill="#575757" stroke="none" stroke-width="0"/>
<circle cx="101.60" cy="203.60" r="3.4" fill="#393939" stroke="none" stroke-width="0"/>
<circle cx="109.50" cy="222.80" r="7" fill="#82ce71" stroke="#6fc15f" stroke-width="0.8"/>
<circle cx="109.50" cy="222.80" r="5.3" fill="#93d882" stroke="none" stroke-width="0"/>
<circle cx="108.90" cy="223.10" r="3.4" fill="#68bd58" stroke="none" stroke-width="0"/>
<circle cx="100.10" cy="232.20" r="7" fill="#82ce71" stroke="#6fc15f" stroke-width="0.8"/>
<circle cx="100.10" cy="232.20" r="5.3" fill="#93d882" stroke="none" stroke-width="0"/>
<circle cx="99.50" cy="232.50" r="3.4" fill="#68bd58" stroke="none" stroke-width="0"/>
<circle cx="113.70" cy="232.60" r="7" fill="#82ce71" stroke="#6fc15f" stroke-width="0.8"/>
<circle cx="113.70" cy="232.60" r="5.3" fill="#93d882" stroke="none" stroke-width="0"/>
<circle cx="113.10" cy="232.90" r="3.4" fill="#68bd58" stroke="none" stroke-width="0"/>
<circle cx="153.60" cy="206.00" r="7.4" fill="#505050" stroke="#404040" stroke-width="0.8"/>
<circle cx="153.60" cy="206.00" r="5.7" fill="#575757" stroke="none" stroke-width="0"/>
<circle cx="153.00" cy="206.30" r="3.5" fill="#393939" stroke="none" stroke-width="0"/>
<circle cx="148.00" cy="217.00" r="7.4" fill="#82ce71" stroke="#6fc15f" stroke-width="0.8"/>
<circle cx="148.00" cy="217.00" r="5.7" fill="#93d882" stroke="none" stroke-width="0"/>
<circle cx="147.40" cy="217.30" r="3.6" fill="#68bd58" stroke="none" stroke-width="0"/>
<path d="M70.3,192.1 C73,194.6 75.5,196.3 79,196.9 L81.5,197.1" fill="none" stroke="#151515" stroke-width="1.15"/>
<path d="M73.5,201.3 L81.5,197.2 L87.5,195.9" fill="none" stroke="#151515" stroke-width="1.15" stroke-linejoin="round"/>
<polygon points="91.20,195.20 86.77,198.61 85.81,193.70" fill="#151515"/>
<line x1="124.40" y1="194.40" x2="139.30" y2="200.00" stroke="#151515" stroke-width="1.05"/>
<polygon points="143.00,201.40 138.10,201.88 139.68,197.77" fill="#151515"/>
<line x1="72.90" y1="225.30" x2="87.50" y2="230.30" stroke="#151515" stroke-width="1.15"/>
<polygon points="91.30,231.50 85.77,232.33 87.32,227.58" fill="#151515"/>
<path d="M69.5,233.6 C72,230 76,228.2 82,228.3" fill="none" stroke="#4cb74f" stroke-width="1.1"/>
<line x1="124.40" y1="231.50" x2="138.50" y2="226.60" stroke="#4cb74f" stroke-width="1.05"/>
<polygon points="142.30,225.30 138.86,228.81 137.42,224.65" fill="#4cb74f"/>
<line x1="167.70" y1="209.30" x2="190.00" y2="209.30" stroke="#151515" stroke-width="1.05"/>
<polygon points="194.00,209.30 189.60,211.50 189.60,207.10" fill="#151515"/>
<path d="M199.8,220.4 C195,220.5 190,220.6 186,220.6 C181,220.7 177,221.2 175.2,223.2 C174,224.6 173.7,225.9 174,227.2" fill="none" stroke="#e2a2a2" stroke-width="1.35" stroke-linecap="round"/>
<path d="M200.2,220.3 C199.5,215 202,209.5 207,207.5 C210.5,206.2 214,205.7 217,205.9 C220,206 222.5,206.8 224.5,208 C227.5,209.5 230,211.5 232,214 C233.5,215.8 235,217.8 236,219.5 C236.2,220.2 235.5,220.6 234.5,220.6 C232,220.8 230.5,221.3 229,221.5 C222,222 210,221.8 203,221.3 C201.5,221.2 200.5,220.9 200.2,220.3 Z" fill="#eeecec" stroke="#dedada" stroke-width="0.5"/>
<path d="M200.6,216.5 C202.5,219.3 206.5,221 212,221.5 L203,221.3 C201.5,221.1 200.6,220.6 200.4,219.5 Z" fill="#dcd7d7"/>
<path d="M214,221.6 C219,220.5 224,219 229,221.3 Z" fill="#e0dcdc"/>
<ellipse cx="224.4" cy="211.4" rx="2.5" ry="3.3" fill="#eab5b5" stroke="#e2d4d4" stroke-width="0.6" transform="rotate(-20 224.4 211.4)"/>
<ellipse cx="228.6" cy="208.9" rx="1.3" ry="1.8" fill="#e6e1e1"/>
<circle cx="230.70" cy="216.10" r="0.75" fill="#c23b3b" stroke="none" stroke-width="0"/>
<circle cx="235.90" cy="219.70" r="0.6" fill="#e6a9a9" stroke="none" stroke-width="0"/>
<ellipse cx="208.7" cy="222.4" rx="2.6" ry="0.9" fill="#e6a9a9"/>
<ellipse cx="225.7" cy="222.6" rx="2.2" ry="0.8" fill="#e6a9a9"/>
<text x="70.45" y="167.70" font-size="8.2" fill="#1e1e1e" stroke="#1e1e1e" stroke-width="0.12" textLength="33.00" lengthAdjust="spacingAndGlyphs">dTomato</text>
<line x1="70.80" y1="169.50" x2="103.30" y2="169.50" stroke="#8a8a8a" stroke-width="0.9"/>
<text x="70.57" y="178.60" font-size="8.2" fill="#1e1e1e" stroke="#1e1e1e" stroke-width="0.12" textLength="15.19" lengthAdjust="spacingAndGlyphs"><tspan font-style="italic">LUC</tspan></text>
<text x="18.14" y="203.00" font-size="8.2" fill="#1e1e1e" stroke="#1e1e1e" stroke-width="0.12" textLength="16.42" lengthAdjust="spacingAndGlyphs">PDX</text>
<line x1="18.20" y1="204.50" x2="35.00" y2="204.50" stroke="#8a8a8a" stroke-width="0.9"/>
<text x="14.16" y="214.40" font-size="8.2" fill="#1e1e1e" stroke="#1e1e1e" stroke-width="0.12" textLength="24.30" lengthAdjust="spacingAndGlyphs">ML-DS</text>
<text x="15.98" y="223.50" font-size="8.2" fill="#1e1e1e" stroke="#1e1e1e" stroke-width="0.12" textLength="21.27" lengthAdjust="spacingAndGlyphs">AMKL</text>
<text x="70.52" y="246.00" font-size="8.2" fill="#4cb74f" stroke="#4cb74f" stroke-width="0.12" textLength="15.69" lengthAdjust="spacingAndGlyphs">GFP</text>
<line x1="70.90" y1="247.60" x2="86.60" y2="247.60" stroke="#4cb74f" stroke-width="0.9"/>
<text x="70.88" y="257.40" font-size="8.2" fill="#4cb74f" stroke="#4cb74f" stroke-width="0.12" textLength="14.48" lengthAdjust="spacingAndGlyphs"><tspan font-style="italic">LUC</tspan></text>
<text x="71.48" y="266.40" font-size="8.2" fill="#4cb74f" stroke="#4cb74f" stroke-width="0.12" textLength="27.73" lengthAdjust="spacingAndGlyphs"><tspan font-style="italic">ARID3A</tspan></text>
<text x="161.57" y="167.80" font-size="8.2" fill="#1e1e1e" stroke="#1e1e1e" stroke-width="0.12" textLength="70.99" lengthAdjust="spacingAndGlyphs"><tspan font-style="italic">In vivo</tspan> competition:</text>
<line x1="161.60" y1="169.50" x2="232.00" y2="169.50" stroke="#8a8a8a" stroke-width="0.9"/>
<text x="175.97" y="179.20" font-size="8.2" fill="#1e1e1e" stroke="#1e1e1e" stroke-width="0.12" textLength="41.89" lengthAdjust="spacingAndGlyphs"><tspan font-style="italic">LUC</tspan> vs <tspan font-style="italic" fill="#4cb74f" stroke="#4cb74f">LUC</tspan></text>
<text x="169.76" y="188.20" font-size="8.2" fill="#1e1e1e" stroke="#1e1e1e" stroke-width="0.12" textLength="55.05" lengthAdjust="spacingAndGlyphs"><tspan font-style="italic">LUC</tspan> vs <tspan font-style="italic" fill="#4cb74f" stroke="#4cb74f">ARID3A</tspan></text>
<text x="158.48" y="220.40" font-size="8.2" fill="#1e1e1e" stroke="#1e1e1e" stroke-width="0.12" textLength="9.56" lengthAdjust="spacingAndGlyphs">1:<tspan fill="#8fd081" stroke="#8fd081">1</tspan></text>
<text x="143.62" y="234.40" font-size="8.2" fill="#1e1e1e" stroke="#1e1e1e" stroke-width="0.12" textLength="18.84" lengthAdjust="spacingAndGlyphs">Input</text>
<text x="202.98" y="234.10" font-size="8.2" fill="#1e1e1e" stroke="#1e1e1e" stroke-width="0.12" textLength="29.59" lengthAdjust="spacingAndGlyphs">MISTRG</text>
<line x1="308.40" y1="188.10" x2="308.40" y2="261.80" stroke="#262626" stroke-width="1.35"/>
<line x1="307.80" y1="261.20" x2="353.50" y2="261.20" stroke="#262626" stroke-width="1.35"/>
<line x1="305.80" y1="261.20" x2="308.40" y2="261.20" stroke="#262626" stroke-width="1.1"/>
<line x1="306.90" y1="256.82" x2="308.40" y2="256.82" stroke="#262626" stroke-width="0.7"/>
<line x1="306.90" y1="254.25" x2="308.40" y2="254.25" stroke="#262626" stroke-width="0.7"/>
<line x1="306.90" y1="252.43" x2="308.40" y2="252.43" stroke="#262626" stroke-width="0.7"/>
<line x1="306.90" y1="251.02" x2="308.40" y2="251.02" stroke="#262626" stroke-width="0.7"/>
<line x1="306.90" y1="249.87" x2="308.40" y2="249.87" stroke="#262626" stroke-width="0.7"/>
<line x1="306.90" y1="248.90" x2="308.40" y2="248.90" stroke="#262626" stroke-width="0.7"/>
<line x1="306.90" y1="248.05" x2="308.40" y2="248.05" stroke="#262626" stroke-width="0.7"/>
<line x1="306.90" y1="247.31" x2="308.40" y2="247.31" stroke="#262626" stroke-width="0.7"/>
<line x1="305.80" y1="246.64" x2="308.40" y2="246.64" stroke="#262626" stroke-width="1.1"/>
<line x1="306.90" y1="242.26" x2="308.40" y2="242.26" stroke="#262626" stroke-width="0.7"/>
<line x1="306.90" y1="239.69" x2="308.40" y2="239.69" stroke="#262626" stroke-width="0.7"/>
<line x1="306.90" y1="237.87" x2="308.40" y2="237.87" stroke="#262626" stroke-width="0.7"/>
<line x1="306.90" y1="236.46" x2="308.40" y2="236.46" stroke="#262626" stroke-width="0.7"/>
<line x1="306.90" y1="235.31" x2="308.40" y2="235.31" stroke="#262626" stroke-width="0.7"/>
<line x1="306.90" y1="234.34" x2="308.40" y2="234.34" stroke="#262626" stroke-width="0.7"/>
<line x1="306.90" y1="233.49" x2="308.40" y2="233.49" stroke="#262626" stroke-width="0.7"/>
<line x1="306.90" y1="232.75" x2="308.40" y2="232.75" stroke="#262626" stroke-width="0.7"/>
<line x1="305.80" y1="232.08" x2="308.40" y2="232.08" stroke="#262626" stroke-width="1.1"/>
<line x1="306.90" y1="227.70" x2="308.40" y2="227.70" stroke="#262626" stroke-width="0.7"/>
<line x1="306.90" y1="225.13" x2="308.40" y2="225.13" stroke="#262626" stroke-width="0.7"/>
<line x1="306.90" y1="223.31" x2="308.40" y2="223.31" stroke="#262626" stroke-width="0.7"/>
<line x1="306.90" y1="221.90" x2="308.40" y2="221.90" stroke="#262626" stroke-width="0.7"/>
<line x1="306.90" y1="220.75" x2="308.40" y2="220.75" stroke="#262626" stroke-width="0.7"/>
<line x1="306.90" y1="219.78" x2="308.40" y2="219.78" stroke="#262626" stroke-width="0.7"/>
<line x1="306.90" y1="218.93" x2="308.40" y2="218.93" stroke="#262626" stroke-width="0.7"/>
<line x1="306.90" y1="218.19" x2="308.40" y2="218.19" stroke="#262626" stroke-width="0.7"/>
<line x1="305.80" y1="217.52" x2="308.40" y2="217.52" stroke="#262626" stroke-width="1.1"/>
<line x1="306.90" y1="213.14" x2="308.40" y2="213.14" stroke="#262626" stroke-width="0.7"/>
<line x1="306.90" y1="210.57" x2="308.40" y2="210.57" stroke="#262626" stroke-width="0.7"/>
<line x1="306.90" y1="208.75" x2="308.40" y2="208.75" stroke="#262626" stroke-width="0.7"/>
<line x1="306.90" y1="207.34" x2="308.40" y2="207.34" stroke="#262626" stroke-width="0.7"/>
<line x1="306.90" y1="206.19" x2="308.40" y2="206.19" stroke="#262626" stroke-width="0.7"/>
<line x1="306.90" y1="205.22" x2="308.40" y2="205.22" stroke="#262626" stroke-width="0.7"/>
<line x1="306.90" y1="204.37" x2="308.40" y2="204.37" stroke="#262626" stroke-width="0.7"/>
<line x1="306.90" y1="203.63" x2="308.40" y2="203.63" stroke="#262626" stroke-width="0.7"/>
<line x1="305.80" y1="202.96" x2="308.40" y2="202.96" stroke="#262626" stroke-width="1.1"/>
<line x1="306.90" y1="198.58" x2="308.40" y2="198.58" stroke="#262626" stroke-width="0.7"/>
<line x1="306.90" y1="196.01" x2="308.40" y2="196.01" stroke="#262626" stroke-width="0.7"/>
<line x1="306.90" y1="194.19" x2="308.40" y2="194.19" stroke="#262626" stroke-width="0.7"/>
<line x1="306.90" y1="192.78" x2="308.40" y2="192.78" stroke="#262626" stroke-width="0.7"/>
<line x1="306.90" y1="191.63" x2="308.40" y2="191.63" stroke="#262626" stroke-width="0.7"/>
<line x1="306.90" y1="190.66" x2="308.40" y2="190.66" stroke="#262626" stroke-width="0.7"/>
<line x1="306.90" y1="189.81" x2="308.40" y2="189.81" stroke="#262626" stroke-width="0.7"/>
<line x1="306.90" y1="189.07" x2="308.40" y2="189.07" stroke="#262626" stroke-width="0.7"/>
<line x1="305.80" y1="188.40" x2="308.40" y2="188.40" stroke="#262626" stroke-width="1.1"/>
<text x="290.74" y="191.20" font-size="7.5" fill="#1e1e1e" stroke="#1e1e1e" stroke-width="0.12" textLength="8.14" lengthAdjust="spacingAndGlyphs">10</text>
<text x="299.22" y="187.80" font-size="5.4" fill="#1e1e1e" stroke="#1e1e1e" stroke-width="0.12" textLength="3.48" lengthAdjust="spacingAndGlyphs">1</text>
<text x="290.74" y="205.76" font-size="7.5" fill="#1e1e1e" stroke="#1e1e1e" stroke-width="0.12" textLength="8.14" lengthAdjust="spacingAndGlyphs">10</text>
<text x="299.48" y="202.36" font-size="5.4" fill="#1e1e1e" stroke="#1e1e1e" stroke-width="0.12" textLength="3.14" lengthAdjust="spacingAndGlyphs">0</text>
<text x="287.14" y="220.32" font-size="7.5" fill="#1e1e1e" stroke="#1e1e1e" stroke-width="0.12" textLength="8.14" lengthAdjust="spacingAndGlyphs">10</text>
<text x="295.53" y="216.92" font-size="5.4" fill="#1e1e1e" stroke="#1e1e1e" stroke-width="0.12" textLength="6.35" lengthAdjust="spacingAndGlyphs">−1</text>
<text x="287.14" y="234.88" font-size="7.5" fill="#1e1e1e" stroke="#1e1e1e" stroke-width="0.12" textLength="8.14" lengthAdjust="spacingAndGlyphs">10</text>
<text x="295.53" y="231.48" font-size="5.4" fill="#1e1e1e" stroke="#1e1e1e" stroke-width="0.12" textLength="6.36" lengthAdjust="spacingAndGlyphs">−2</text>
<text x="287.14" y="249.44" font-size="7.5" fill="#1e1e1e" stroke="#1e1e1e" stroke-width="0.12" textLength="8.14" lengthAdjust="spacingAndGlyphs">10</text>
<text x="295.53" y="246.04" font-size="5.4" fill="#1e1e1e" stroke="#1e1e1e" stroke-width="0.12" textLength="6.32" lengthAdjust="spacingAndGlyphs">−3</text>
<text x="287.14" y="264.00" font-size="7.5" fill="#1e1e1e" stroke="#1e1e1e" stroke-width="0.12" textLength="8.14" lengthAdjust="spacingAndGlyphs">10</text>
<text x="295.53" y="260.60" font-size="5.4" fill="#1e1e1e" stroke="#1e1e1e" stroke-width="0.12" textLength="6.23" lengthAdjust="spacingAndGlyphs">−4</text>
<line x1="319.60" y1="261.20" x2="319.60" y2="264.00" stroke="#262626" stroke-width="0.9"/>
<line x1="341.50" y1="261.20" x2="341.50" y2="264.00" stroke="#262626" stroke-width="0.9"/>
<text x="316.03" y="273.20" font-size="7.8" fill="#1e1e1e" stroke="#1e1e1e" stroke-width="0.12" textLength="6.85" lengthAdjust="spacingAndGlyphs">IP</text>
<text x="335.04" y="273.20" font-size="7.8" fill="#1e1e1e" stroke="#1e1e1e" stroke-width="0.12" textLength="12.91" lengthAdjust="spacingAndGlyphs">BM</text>
<line x1="338.50" y1="197.30" x2="345.50" y2="197.30" stroke="#262626" stroke-width="0.9"/>
<line x1="345.50" y1="196.85" x2="345.50" y2="232.00" stroke="#262626" stroke-width="0.9"/>
<line x1="338.50" y1="196.85" x2="338.50" y2="199.30" stroke="#262626" stroke-width="0.9"/>
<circle cx="316.50" cy="204.70" r="2.85" fill="#0d0d0d" stroke="none" stroke-width="0"/>
<circle cx="323.70" cy="205.20" r="2.85" fill="#3fb94b" stroke="none" stroke-width="0"/>
<circle cx="338.50" cy="201.50" r="2.85" fill="#0d0d0d" stroke="none" stroke-width="0"/>
<circle cx="338.50" cy="203.80" r="2.85" fill="#0d0d0d" stroke="none" stroke-width="0"/>
<circle cx="338.50" cy="211.50" r="2.85" fill="#0d0d0d" stroke="none" stroke-width="0"/>
<circle cx="338.50" cy="246.00" r="2.85" fill="#0d0d0d" stroke="none" stroke-width="0"/>
<circle cx="345.30" cy="233.40" r="2.85" fill="#3fb94b" stroke="none" stroke-width="0"/>
<circle cx="345.30" cy="237.50" r="2.85" fill="#3fb94b" stroke="none" stroke-width="0"/>
<circle cx="345.30" cy="241.40" r="2.85" fill="#3fb94b" stroke="none" stroke-width="0"/>
<circle cx="345.30" cy="247.90" r="2.85" fill="#3fb94b" stroke="none" stroke-width="0"/>
<line x1="320.60" y1="205.20" x2="326.80" y2="205.20" stroke="#0d0d0d" stroke-width="1.1"/>
<line x1="342.00" y1="239.20" x2="348.60" y2="239.20" stroke="#0d0d0d" stroke-width="1.1"/>
<text x="326.56" y="194.10" font-size="7.8" fill="#1e1e1e" stroke="#1e1e1e" stroke-width="0.12" textLength="30.67" lengthAdjust="spacingAndGlyphs">p=0.002</text>
<text x="318.64" y="167.40" font-size="7.4" fill="#1e1e1e" stroke="#1e1e1e" stroke-width="0.12" textLength="24.92" lengthAdjust="spacingAndGlyphs">ML-DS</text>
<text x="317.67" y="176.50" font-size="7.4" fill="#1e1e1e" stroke="#1e1e1e" stroke-width="0.12" textLength="26.40" lengthAdjust="spacingAndGlyphs">PDX #1</text>
<text x="-0.58" y="0" font-size="8.1" fill="#1e1e1e" stroke="#1e1e1e" stroke-width="0.12" textLength="63.08" lengthAdjust="spacingAndGlyphs" transform="translate(281.50 255.30) rotate(-90)">Ratio GFP/dTomato</text>
<line x1="386.90" y1="188.00" x2="386.90" y2="262.00" stroke="#262626" stroke-width="1.35"/>
<line x1="386.30" y1="261.40" x2="429.30" y2="261.40" stroke="#262626" stroke-width="1.35"/>
<line x1="384.30" y1="261.40" x2="386.90" y2="261.40" stroke="#262626" stroke-width="1.1"/>
<line x1="385.40" y1="254.06" x2="386.90" y2="254.06" stroke="#262626" stroke-width="0.7"/>
<line x1="385.40" y1="249.77" x2="386.90" y2="249.77" stroke="#262626" stroke-width="0.7"/>
<line x1="385.40" y1="246.73" x2="386.90" y2="246.73" stroke="#262626" stroke-width="0.7"/>
<line x1="385.40" y1="244.37" x2="386.90" y2="244.37" stroke="#262626" stroke-width="0.7"/>
<line x1="385.40" y1="242.44" x2="386.90" y2="242.44" stroke="#262626" stroke-width="0.7"/>
<line x1="385.40" y1="240.81" x2="386.90" y2="240.81" stroke="#262626" stroke-width="0.7"/>
<line x1="385.40" y1="239.39" x2="386.90" y2="239.39" stroke="#262626" stroke-width="0.7"/>
<line x1="385.40" y1="238.15" x2="386.90" y2="238.15" stroke="#262626" stroke-width="0.7"/>
<line x1="384.30" y1="237.03" x2="386.90" y2="237.03" stroke="#262626" stroke-width="1.1"/>
<line x1="385.40" y1="229.70" x2="386.90" y2="229.70" stroke="#262626" stroke-width="0.7"/>
<line x1="385.40" y1="225.41" x2="386.90" y2="225.41" stroke="#262626" stroke-width="0.7"/>
<line x1="385.40" y1="222.36" x2="386.90" y2="222.36" stroke="#262626" stroke-width="0.7"/>
<line x1="385.40" y1="220.00" x2="386.90" y2="220.00" stroke="#262626" stroke-width="0.7"/>
<line x1="385.40" y1="218.07" x2="386.90" y2="218.07" stroke="#262626" stroke-width="0.7"/>
<line x1="385.40" y1="216.44" x2="386.90" y2="216.44" stroke="#262626" stroke-width="0.7"/>
<line x1="385.40" y1="215.03" x2="386.90" y2="215.03" stroke="#262626" stroke-width="0.7"/>
<line x1="385.40" y1="213.78" x2="386.90" y2="213.78" stroke="#262626" stroke-width="0.7"/>
<line x1="384.30" y1="212.67" x2="386.90" y2="212.67" stroke="#262626" stroke-width="1.1"/>
<line x1="385.40" y1="205.33" x2="386.90" y2="205.33" stroke="#262626" stroke-width="0.7"/>
<line x1="385.40" y1="201.04" x2="386.90" y2="201.04" stroke="#262626" stroke-width="0.7"/>
<line x1="385.40" y1="198.00" x2="386.90" y2="198.00" stroke="#262626" stroke-width="0.7"/>
<line x1="385.40" y1="195.64" x2="386.90" y2="195.64" stroke="#262626" stroke-width="0.7"/>
<line x1="385.40" y1="193.71" x2="386.90" y2="193.71" stroke="#262626" stroke-width="0.7"/>
<line x1="385.40" y1="192.07" x2="386.90" y2="192.07" stroke="#262626" stroke-width="0.7"/>
<line x1="385.40" y1="190.66" x2="386.90" y2="190.66" stroke="#262626" stroke-width="0.7"/>
<line x1="385.40" y1="189.41" x2="386.90" y2="189.41" stroke="#262626" stroke-width="0.7"/>
<line x1="384.30" y1="188.30" x2="386.90" y2="188.30" stroke="#262626" stroke-width="1.1"/>
<text x="367.94" y="191.10" font-size="7.5" fill="#1e1e1e" stroke="#1e1e1e" stroke-width="0.12" textLength="8.14" lengthAdjust="spacingAndGlyphs">10</text>
<text x="376.68" y="187.70" font-size="5.4" fill="#1e1e1e" stroke="#1e1e1e" stroke-width="0.12" textLength="3.14" lengthAdjust="spacingAndGlyphs">0</text>
<text x="364.34" y="215.47" font-size="7.5" fill="#1e1e1e" stroke="#1e1e1e" stroke-width="0.12" textLength="8.14" lengthAdjust="spacingAndGlyphs">10</text>
<text x="372.73" y="212.07" font-size="5.4" fill="#1e1e1e" stroke="#1e1e1e" stroke-width="0.12" textLength="6.35" lengthAdjust="spacingAndGlyphs">−1</text>
<text x="364.34" y="239.83" font-size="7.5" fill="#1e1e1e" stroke="#1e1e1e" stroke-width="0.12" textLength="8.14" lengthAdjust="spacingAndGlyphs">10</text>
<text x="372.73" y="236.43" font-size="5.4" fill="#1e1e1e" stroke="#1e1e1e" stroke-width="0.12" textLength="6.36" lengthAdjust="spacingAndGlyphs">−2</text>
<text x="364.34" y="264.20" font-size="7.5" fill="#1e1e1e" stroke="#1e1e1e" stroke-width="0.12" textLength="8.14" lengthAdjust="spacingAndGlyphs">10</text>
<text x="372.73" y="260.80" font-size="5.4" fill="#1e1e1e" stroke="#1e1e1e" stroke-width="0.12" textLength="6.32" lengthAdjust="spacingAndGlyphs">−3</text>
<line x1="397.20" y1="261.40" x2="397.20" y2="264.20" stroke="#262626" stroke-width="0.9"/>
<line x1="420.00" y1="261.40" x2="420.00" y2="264.20" stroke="#262626" stroke-width="0.9"/>
<text x="393.63" y="273.20" font-size="7.8" fill="#1e1e1e" stroke="#1e1e1e" stroke-width="0.12" textLength="6.85" lengthAdjust="spacingAndGlyphs">IP</text>
<text x="413.54" y="273.20" font-size="7.8" fill="#1e1e1e" stroke="#1e1e1e" stroke-width="0.12" textLength="12.91" lengthAdjust="spacingAndGlyphs">BM</text>
<line x1="417.30" y1="194.90" x2="425.40" y2="194.90" stroke="#262626" stroke-width="0.9"/>
<line x1="425.40" y1="194.45" x2="425.40" y2="217.50" stroke="#262626" stroke-width="0.9"/>
<line x1="417.30" y1="194.45" x2="417.30" y2="196.90" stroke="#262626" stroke-width="0.9"/>
<circle cx="393.70" cy="191.60" r="2.85" fill="#0d0d0d" stroke="none" stroke-width="0"/>
<circle cx="401.90" cy="193.60" r="2.85" fill="#3fb94b" stroke="none" stroke-width="0"/>
<circle cx="415.30" cy="200.50" r="2.85" fill="#0d0d0d" stroke="none" stroke-width="0"/>
<circle cx="417.30" cy="201.50" r="2.85" fill="#0d0d0d" stroke="none" stroke-width="0"/>
<circle cx="415.00" cy="205.30" r="2.85" fill="#0d0d0d" stroke="none" stroke-width="0"/>
<circle cx="416.20" cy="209.20" r="2.85" fill="#0d0d0d" stroke="none" stroke-width="0"/>
<circle cx="415.30" cy="215.30" r="2.85" fill="#0d0d0d" stroke="none" stroke-width="0"/>
<circle cx="423.50" cy="223.00" r="2.85" fill="#3fb94b" stroke="none" stroke-width="0"/>
<circle cx="423.50" cy="235.80" r="2.85" fill="#3fb94b" stroke="none" stroke-width="0"/>
<circle cx="423.50" cy="248.60" r="2.85" fill="#3fb94b" stroke="none" stroke-width="0"/>
<circle cx="423.50" cy="252.00" r="2.85" fill="#3fb94b" stroke="none" stroke-width="0"/>
<circle cx="423.50" cy="255.60" r="2.85" fill="#3fb94b" stroke="none" stroke-width="0"/>
<line x1="398.60" y1="193.60" x2="405.20" y2="193.60" stroke="#0d0d0d" stroke-width="1.1"/>
<line x1="420.30" y1="235.80" x2="426.70" y2="235.80" stroke="#0d0d0d" stroke-width="1.1"/>
<text x="407.56" y="191.30" font-size="7.8" fill="#1e1e1e" stroke="#1e1e1e" stroke-width="0.12" textLength="30.51" lengthAdjust="spacingAndGlyphs">p=0.006</text>
<text x="395.15" y="167.40" font-size="7.4" fill="#1e1e1e" stroke="#1e1e1e" stroke-width="0.12" textLength="24.82" lengthAdjust="spacingAndGlyphs">ML-DS</text>
<text x="393.55" y="176.50" font-size="7.4" fill="#1e1e1e" stroke="#1e1e1e" stroke-width="0.12" textLength="27.35" lengthAdjust="spacingAndGlyphs">PDX #2</text>
<line x1="466.20" y1="188.60" x2="466.20" y2="261.60" stroke="#262626" stroke-width="1.35"/>
<line x1="465.60" y1="261.00" x2="513.00" y2="261.00" stroke="#262626" stroke-width="1.35"/>
<line x1="463.60" y1="261.00" x2="466.20" y2="261.00" stroke="#262626" stroke-width="1.1"/>
<line x1="464.70" y1="248.45" x2="466.20" y2="248.45" stroke="#262626" stroke-width="0.7"/>
<line x1="464.70" y1="241.10" x2="466.20" y2="241.10" stroke="#262626" stroke-width="0.7"/>
<line x1="464.70" y1="235.89" x2="466.20" y2="235.89" stroke="#262626" stroke-width="0.7"/>
<line x1="464.70" y1="231.85" x2="466.20" y2="231.85" stroke="#262626" stroke-width="0.7"/>
<line x1="464.70" y1="228.55" x2="466.20" y2="228.55" stroke="#262626" stroke-width="0.7"/>
<line x1="464.70" y1="225.76" x2="466.20" y2="225.76" stroke="#262626" stroke-width="0.7"/>
<line x1="464.70" y1="223.34" x2="466.20" y2="223.34" stroke="#262626" stroke-width="0.7"/>
<line x1="464.70" y1="221.21" x2="466.20" y2="221.21" stroke="#262626" stroke-width="0.7"/>
<line x1="463.60" y1="219.30" x2="466.20" y2="219.30" stroke="#262626" stroke-width="1.1"/>
<line x1="464.70" y1="206.75" x2="466.20" y2="206.75" stroke="#262626" stroke-width="0.7"/>
<line x1="464.70" y1="199.40" x2="466.20" y2="199.40" stroke="#262626" stroke-width="0.7"/>
<line x1="464.70" y1="194.19" x2="466.20" y2="194.19" stroke="#262626" stroke-width="0.7"/>
<line x1="464.70" y1="190.15" x2="466.20" y2="190.15" stroke="#262626" stroke-width="0.7"/>
<text x="447.04" y="222.10" font-size="7.5" fill="#1e1e1e" stroke="#1e1e1e" stroke-width="0.12" textLength="8.14" lengthAdjust="spacingAndGlyphs">10</text>
<text x="455.78" y="218.70" font-size="5.4" fill="#1e1e1e" stroke="#1e1e1e" stroke-width="0.12" textLength="3.14" lengthAdjust="spacingAndGlyphs">0</text>
<text x="443.44" y="263.80" font-size="7.5" fill="#1e1e1e" stroke="#1e1e1e" stroke-width="0.12" textLength="8.14" lengthAdjust="spacingAndGlyphs">10</text>
<text x="451.83" y="260.40" font-size="5.4" fill="#1e1e1e" stroke="#1e1e1e" stroke-width="0.12" textLength="6.35" lengthAdjust="spacingAndGlyphs">−1</text>
<line x1="476.40" y1="261.00" x2="476.40" y2="263.80" stroke="#262626" stroke-width="0.9"/>
<line x1="496.50" y1="261.00" x2="496.50" y2="263.80" stroke="#262626" stroke-width="0.9"/>
<text x="472.83" y="273.20" font-size="7.8" fill="#1e1e1e" stroke="#1e1e1e" stroke-width="0.12" textLength="6.85" lengthAdjust="spacingAndGlyphs">IP</text>
<text x="490.04" y="273.20" font-size="7.8" fill="#1e1e1e" stroke="#1e1e1e" stroke-width="0.12" textLength="12.91" lengthAdjust="spacingAndGlyphs">BM</text>
<line x1="496.00" y1="199.40" x2="503.20" y2="199.40" stroke="#262626" stroke-width="0.9"/>
<line x1="503.20" y1="198.95" x2="503.20" y2="221.30" stroke="#262626" stroke-width="0.9"/>
<line x1="496.00" y1="198.95" x2="496.00" y2="201.40" stroke="#262626" stroke-width="0.9"/>
<circle cx="473.30" cy="237.10" r="2.85" fill="#0d0d0d" stroke="none" stroke-width="0"/>
<circle cx="480.90" cy="205.40" r="2.85" fill="#3fb94b" stroke="none" stroke-width="0"/>
<circle cx="495.40" cy="204.60" r="2.85" fill="#0d0d0d" stroke="none" stroke-width="0"/>
<circle cx="495.40" cy="214.90" r="2.85" fill="#0d0d0d" stroke="none" stroke-width="0"/>
<circle cx="495.40" cy="217.90" r="2.85" fill="#0d0d0d" stroke="none" stroke-width="0"/>
<circle cx="495.40" cy="221.30" r="2.85" fill="#0d0d0d" stroke="none" stroke-width="0"/>
<circle cx="495.40" cy="241.60" r="2.85" fill="#0d0d0d" stroke="none" stroke-width="0"/>
<circle cx="502.90" cy="231.50" r="2.85" fill="#3fb94b" stroke="none" stroke-width="0"/>
<circle cx="502.90" cy="242.40" r="2.85" fill="#3fb94b" stroke="none" stroke-width="0"/>
<circle cx="502.90" cy="244.70" r="2.85" fill="#3fb94b" stroke="none" stroke-width="0"/>
<circle cx="502.90" cy="246.60" r="2.85" fill="#3fb94b" stroke="none" stroke-width="0"/>
<line x1="477.70" y1="205.40" x2="484.10" y2="205.40" stroke="#0d0d0d" stroke-width="1.1"/>
<line x1="498.00" y1="241.60" x2="508.00" y2="241.60" stroke="#0d0d0d" stroke-width="1.1"/>
<text x="486.35" y="195.40" font-size="7.8" fill="#1e1e1e" stroke="#1e1e1e" stroke-width="0.12" textLength="26.38" lengthAdjust="spacingAndGlyphs">p=0.02</text>
<text x="476.58" y="167.40" font-size="7.4" fill="#1e1e1e" stroke="#1e1e1e" stroke-width="0.12" textLength="21.07" lengthAdjust="spacingAndGlyphs">AMKL</text>
<text x="473.67" y="176.50" font-size="7.4" fill="#1e1e1e" stroke="#1e1e1e" stroke-width="0.12" textLength="26.41" lengthAdjust="spacingAndGlyphs">PDX #2</text>
<circle cx="349.20" cy="283.90" r="2.85" fill="#0d0d0d" stroke="none" stroke-width="0"/>
<text x="355.49" y="286.60" font-size="7.6" fill="#1e1e1e" stroke="#1e1e1e" stroke-width="0.12" textLength="29.47" lengthAdjust="spacingAndGlyphs"><tspan font-style="italic">LUC:LUC</tspan></text>
<circle cx="402.40" cy="283.90" r="2.85" fill="#3fb94b" stroke="none" stroke-width="0"/>
<text x="408.58" y="286.60" font-size="7.6" fill="#1e1e1e" stroke="#1e1e1e" stroke-width="0.12" textLength="42.71" lengthAdjust="spacingAndGlyphs"><tspan font-style="italic">LUC:ARID3A</tspan></text>
<line x1="58.40" y1="322.00" x2="58.40" y2="396.00" stroke="#262626" stroke-width="1.35"/>
<line x1="57.80" y1="395.40" x2="176.50" y2="395.40" stroke="#262626" stroke-width="1.35"/>
<line x1="55.40" y1="395.40" x2="58.40" y2="395.40" stroke="#262626" stroke-width="1.0"/>
<text x="38.01" y="397.70" font-size="8.0" fill="#1e1e1e" stroke="#1e1e1e" stroke-width="0.12" textLength="14.38" lengthAdjust="spacingAndGlyphs">0.00</text>
<line x1="55.40" y1="378.88" x2="58.40" y2="378.88" stroke="#262626" stroke-width="1.0"/>
<text x="38.01" y="381.18" font-size="8.0" fill="#1e1e1e" stroke="#1e1e1e" stroke-width="0.12" textLength="14.40" lengthAdjust="spacingAndGlyphs">0.25</text>
<line x1="55.40" y1="362.35" x2="58.40" y2="362.35" stroke="#262626" stroke-width="1.0"/>
<text x="38.01" y="364.65" font-size="8.0" fill="#1e1e1e" stroke="#1e1e1e" stroke-width="0.12" textLength="14.38" lengthAdjust="spacingAndGlyphs">0.50</text>
<line x1="55.40" y1="345.82" x2="58.40" y2="345.82" stroke="#262626" stroke-width="1.0"/>
<text x="38.01" y="348.12" font-size="8.0" fill="#1e1e1e" stroke="#1e1e1e" stroke-width="0.12" textLength="14.40" lengthAdjust="spacingAndGlyphs">0.75</text>
<line x1="55.40" y1="329.30" x2="58.40" y2="329.30" stroke="#262626" stroke-width="1.0"/>
<text x="38.35" y="331.60" font-size="8.0" fill="#1e1e1e" stroke="#1e1e1e" stroke-width="0.12" textLength="14.03" lengthAdjust="spacingAndGlyphs">1.00</text>
<line x1="58.40" y1="395.40" x2="58.40" y2="398.20" stroke="#262626" stroke-width="0.9"/>
<text x="55.72" y="407.60" font-size="8.1" fill="#1e1e1e" stroke="#1e1e1e" stroke-width="0.12" textLength="5.35" lengthAdjust="spacingAndGlyphs">0</text>
<line x1="91.80" y1="395.40" x2="91.80" y2="398.20" stroke="#262626" stroke-width="0.9"/>
<text x="88.99" y="407.60" font-size="8.1" fill="#1e1e1e" stroke="#1e1e1e" stroke-width="0.12" textLength="5.62" lengthAdjust="spacingAndGlyphs">2</text>
<line x1="125.40" y1="395.40" x2="125.40" y2="398.20" stroke="#262626" stroke-width="0.9"/>
<text x="122.89" y="407.60" font-size="8.1" fill="#1e1e1e" stroke="#1e1e1e" stroke-width="0.12" textLength="5.08" lengthAdjust="spacingAndGlyphs">4</text>
<line x1="158.80" y1="395.40" x2="158.80" y2="398.20" stroke="#262626" stroke-width="0.9"/>
<text x="155.99" y="407.60" font-size="8.1" fill="#1e1e1e" stroke="#1e1e1e" stroke-width="0.12" textLength="5.54" lengthAdjust="spacingAndGlyphs">6</text>
<text x="96.54" y="420.60" font-size="9.0" fill="#1e1e1e" stroke="#1e1e1e" stroke-width="0.12" textLength="40.41" lengthAdjust="spacingAndGlyphs">Time (years)</text>
<text x="-0.60" y="0" font-size="9.3" fill="#1e1e1e" stroke="#1e1e1e" stroke-width="0.12" textLength="54.45" lengthAdjust="spacingAndGlyphs" transform="translate(31.90 385.60) rotate(-90)">EFS (probability)</text>
<polyline points="58.90,329.50 61.00,331.00 62.70,334.00 64.80,336.20 67.60,336.90 69.60,340.30 71.00,344.50 72.40,351.50 74.50,357.10 76.60,361.50 80.10,365.40 85.70,368.90 91.30,371.70 96.80,373.80 105.20,374.40 132.50,374.40 133.00,375.20 176.30,375.20" fill="none" stroke="#0c0c0c" stroke-width="1.55" stroke-linejoin="round"/>
<line x1="100.00" y1="374.70" x2="100.00" y2="372.50" stroke="#0c0c0c" stroke-width="0.7"/>
<line x1="112.00" y1="374.70" x2="112.00" y2="372.50" stroke="#0c0c0c" stroke-width="0.7"/>
<line x1="118.00" y1="374.70" x2="118.00" y2="372.50" stroke="#0c0c0c" stroke-width="0.7"/>
<line x1="134.00" y1="375.50" x2="134.00" y2="373.30" stroke="#0c0c0c" stroke-width="0.7"/>
<line x1="136.00" y1="375.50" x2="136.00" y2="373.30" stroke="#0c0c0c" stroke-width="0.7"/>
<line x1="138.00" y1="375.50" x2="138.00" y2="373.30" stroke="#0c0c0c" stroke-width="0.7"/>
<line x1="141.00" y1="375.50" x2="141.00" y2="373.30" stroke="#0c0c0c" stroke-width="0.7"/>
<line x1="143.00" y1="375.50" x2="143.00" y2="373.30" stroke="#0c0c0c" stroke-width="0.7"/>
<line x1="146.00" y1="375.50" x2="146.00" y2="373.30" stroke="#0c0c0c" stroke-width="0.7"/>
<line x1="148.00" y1="375.50" x2="148.00" y2="373.30" stroke="#0c0c0c" stroke-width="0.7"/>
<line x1="150.00" y1="375.50" x2="150.00" y2="373.30" stroke="#0c0c0c" stroke-width="0.7"/>
<line x1="152.00" y1="375.50" x2="152.00" y2="373.30" stroke="#0c0c0c" stroke-width="0.7"/>
<line x1="154.00" y1="375.50" x2="154.00" y2="373.30" stroke="#0c0c0c" stroke-width="0.7"/>
<line x1="156.00" y1="375.50" x2="156.00" y2="373.30" stroke="#0c0c0c" stroke-width="0.7"/>
<line x1="158.00" y1="375.50" x2="158.00" y2="373.30" stroke="#0c0c0c" stroke-width="0.7"/>
<line x1="160.00" y1="375.50" x2="160.00" y2="373.30" stroke="#0c0c0c" stroke-width="0.7"/>
<line x1="162.00" y1="375.50" x2="162.00" y2="373.30" stroke="#0c0c0c" stroke-width="0.7"/>
<line x1="164.00" y1="375.50" x2="164.00" y2="373.30" stroke="#0c0c0c" stroke-width="0.7"/>
<line x1="166.00" y1="375.50" x2="166.00" y2="373.30" stroke="#0c0c0c" stroke-width="0.7"/>
<line x1="168.00" y1="375.50" x2="168.00" y2="373.30" stroke="#0c0c0c" stroke-width="0.7"/>
<line x1="170.00" y1="375.50" x2="170.00" y2="373.30" stroke="#0c0c0c" stroke-width="0.7"/>
<line x1="172.00" y1="375.50" x2="172.00" y2="373.30" stroke="#0c0c0c" stroke-width="0.7"/>
<line x1="174.00" y1="375.50" x2="174.00" y2="373.30" stroke="#0c0c0c" stroke-width="0.7"/>
<polyline points="58.90,329.50 61.30,329.50 61.30,330.60 62.70,330.60 62.70,334.00 64.80,334.00 64.80,335.90 67.60,335.90 67.60,335.90 69.60,335.90 69.60,337.60 71.70,337.60 71.70,343.10 74.50,343.10 74.50,344.50 76.60,344.50 76.60,346.60 78.70,346.60 78.70,352.90 81.50,352.90 81.50,355.00 82.90,355.00 82.90,358.50 87.10,358.50 87.10,359.20 88.50,359.20 88.50,362.00 92.70,362.00 92.70,362.00 95.40,362.00 95.40,363.80 101.00,363.80 101.00,364.00 103.80,364.00 103.80,365.70 176.30,365.70" fill="none" stroke="#3aae3e" stroke-width="1.45" stroke-linejoin="round"/>
<line x1="106.90" y1="366.00" x2="106.90" y2="363.80" stroke="#3aae3e" stroke-width="0.7"/>
<line x1="110.80" y1="366.00" x2="110.80" y2="363.80" stroke="#3aae3e" stroke-width="0.7"/>
<line x1="128.50" y1="366.00" x2="128.50" y2="363.80" stroke="#3aae3e" stroke-width="0.7"/>
<line x1="130.80" y1="366.00" x2="130.80" y2="363.80" stroke="#3aae3e" stroke-width="0.7"/>
<line x1="140.00" y1="366.00" x2="140.00" y2="363.80" stroke="#3aae3e" stroke-width="0.7"/>
<line x1="144.60" y1="366.00" x2="144.60" y2="363.80" stroke="#3aae3e" stroke-width="0.7"/>
<line x1="148.50" y1="366.00" x2="148.50" y2="363.80" stroke="#3aae3e" stroke-width="0.7"/>
<line x1="150.80" y1="366.00" x2="150.80" y2="363.80" stroke="#3aae3e" stroke-width="0.7"/>
<line x1="153.80" y1="366.00" x2="153.80" y2="363.80" stroke="#3aae3e" stroke-width="0.7"/>
<line x1="157.70" y1="366.00" x2="157.70" y2="363.80" stroke="#3aae3e" stroke-width="0.7"/>
<line x1="166.20" y1="366.00" x2="166.20" y2="363.80" stroke="#3aae3e" stroke-width="0.7"/>
<text x="127.83" y="318.70" font-size="7.5" fill="#1e1e1e" stroke="#1e1e1e" stroke-width="0.12" textLength="77.01" lengthAdjust="spacingAndGlyphs">TARGET pediatric AML</text>
<line x1="127.40" y1="329.20" x2="143.20" y2="329.20" stroke="#3aae3e" stroke-width="1.3"/>
<line x1="135.30" y1="329.20" x2="135.30" y2="327.30" stroke="#3aae3e" stroke-width="0.7"/>
<line x1="127.40" y1="340.20" x2="143.20" y2="340.20" stroke="#0c0c0c" stroke-width="1.5"/>
<line x1="135.30" y1="340.20" x2="135.30" y2="338.30" stroke="#0c0c0c" stroke-width="0.7"/>
<text x="145.99" y="331.70" font-size="7.1" fill="#1e1e1e" stroke="#1e1e1e" stroke-width="0.12" textLength="67.46" lengthAdjust="spacingAndGlyphs">High <tspan font-style="italic">ARID3A</tspan> (n=68)</text>
<text x="146.00" y="342.60" font-size="7.1" fill="#1e1e1e" stroke="#1e1e1e" stroke-width="0.12" textLength="69.56" lengthAdjust="spacingAndGlyphs">Low <tspan font-style="italic">ARID3A</tspan> (n=190)</text>
<text x="62.72" y="389.30" font-size="7.7" fill="#1e1e1e" stroke="#1e1e1e" stroke-width="0.12" textLength="5.51" lengthAdjust="spacingAndGlyphs">P</text>
<text x="67.17" y="391.40" font-size="6.0" fill="#1e1e1e" stroke="#1e1e1e" stroke-width="0.12" textLength="25.62" lengthAdjust="spacingAndGlyphs">Log-rank</text>
<text x="95.60" y="389.30" font-size="7.7" fill="#1e1e1e" stroke="#1e1e1e" stroke-width="0.12" textLength="4.81" lengthAdjust="spacingAndGlyphs">=</text>
<text x="102.29" y="389.30" font-size="7.7" fill="#1e1e1e" stroke="#1e1e1e" stroke-width="0.12" textLength="19.80" lengthAdjust="spacingAndGlyphs">0.021</text>
<line x1="309.30" y1="322.00" x2="309.30" y2="396.00" stroke="#262626" stroke-width="1.35"/>
<line x1="308.70" y1="395.40" x2="427.00" y2="395.40" stroke="#262626" stroke-width="1.35"/>
<line x1="306.30" y1="395.40" x2="309.30" y2="395.40" stroke="#262626" stroke-width="1.0"/>
<text x="288.30" y="397.70" font-size="8.0" fill="#1e1e1e" stroke="#1e1e1e" stroke-width="0.12" textLength="15.00" lengthAdjust="spacingAndGlyphs">0.00</text>
<line x1="306.30" y1="378.85" x2="309.30" y2="378.85" stroke="#262626" stroke-width="1.0"/>
<text x="288.30" y="381.15" font-size="8.0" fill="#1e1e1e" stroke="#1e1e1e" stroke-width="0.12" textLength="15.03" lengthAdjust="spacingAndGlyphs">0.25</text>
<line x1="306.30" y1="362.30" x2="309.30" y2="362.30" stroke="#262626" stroke-width="1.0"/>
<text x="288.30" y="364.60" font-size="8.0" fill="#1e1e1e" stroke="#1e1e1e" stroke-width="0.12" textLength="15.00" lengthAdjust="spacingAndGlyphs">0.50</text>
<line x1="306.30" y1="345.75" x2="309.30" y2="345.75" stroke="#262626" stroke-width="1.0"/>
<text x="288.30" y="348.05" font-size="8.0" fill="#1e1e1e" stroke="#1e1e1e" stroke-width="0.12" textLength="15.03" lengthAdjust="spacingAndGlyphs">0.75</text>
<line x1="306.30" y1="329.20" x2="309.30" y2="329.20" stroke="#262626" stroke-width="1.0"/>
<text x="288.63" y="331.50" font-size="8.0" fill="#1e1e1e" stroke="#1e1e1e" stroke-width="0.12" textLength="14.67" lengthAdjust="spacingAndGlyphs">1.00</text>
<line x1="309.30" y1="395.40" x2="309.30" y2="398.20" stroke="#262626" stroke-width="0.9"/>
<text x="306.62" y="407.60" font-size="8.1" fill="#1e1e1e" stroke="#1e1e1e" stroke-width="0.12" textLength="5.35" lengthAdjust="spacingAndGlyphs">0</text>
<line x1="342.40" y1="395.40" x2="342.40" y2="398.20" stroke="#262626" stroke-width="0.9"/>
<text x="339.59" y="407.60" font-size="8.1" fill="#1e1e1e" stroke="#1e1e1e" stroke-width="0.12" textLength="5.62" lengthAdjust="spacingAndGlyphs">2</text>
<line x1="375.50" y1="395.40" x2="375.50" y2="398.20" stroke="#262626" stroke-width="0.9"/>
<text x="372.99" y="407.60" font-size="8.1" fill="#1e1e1e" stroke="#1e1e1e" stroke-width="0.12" textLength="5.08" lengthAdjust="spacingAndGlyphs">4</text>
<line x1="408.60" y1="395.40" x2="408.60" y2="398.20" stroke="#262626" stroke-width="0.9"/>
<text x="405.79" y="407.60" font-size="8.1" fill="#1e1e1e" stroke="#1e1e1e" stroke-width="0.12" textLength="5.54" lengthAdjust="spacingAndGlyphs">6</text>
<text x="346.94" y="420.60" font-size="9.0" fill="#1e1e1e" stroke="#1e1e1e" stroke-width="0.12" textLength="40.41" lengthAdjust="spacingAndGlyphs">Time (years)</text>
<text x="-0.62" y="0" font-size="9.3" fill="#1e1e1e" stroke="#1e1e1e" stroke-width="0.12" textLength="55.98" lengthAdjust="spacingAndGlyphs" transform="translate(281.90 388.80) rotate(-90)">EFS (probability)</text>
<polyline points="309.30,329.20 309.50,333.30 311.80,336.30 314.10,340.10 315.60,346.10 317.10,351.40 319.40,356.70 321.60,362.00 324.60,367.30 328.40,371.10 333.00,374.80 337.50,377.10 344.30,378.20 350.30,379.10 356.40,380.10 365.00,380.60 384.00,380.60 384.20,381.90 405.60,381.90 405.80,383.30 426.50,383.30" fill="none" stroke="#0c0c0c" stroke-width="1.55" stroke-linejoin="round"/>
<line x1="346.00" y1="380.90" x2="346.00" y2="378.70" stroke="#0c0c0c" stroke-width="0.7"/>
<line x1="352.00" y1="380.90" x2="352.00" y2="378.70" stroke="#0c0c0c" stroke-width="0.7"/>
<line x1="356.00" y1="380.90" x2="356.00" y2="378.70" stroke="#0c0c0c" stroke-width="0.7"/>
<line x1="360.00" y1="380.90" x2="360.00" y2="378.70" stroke="#0c0c0c" stroke-width="0.7"/>
<line x1="364.00" y1="380.90" x2="364.00" y2="378.70" stroke="#0c0c0c" stroke-width="0.7"/>
<line x1="368.00" y1="380.90" x2="368.00" y2="378.70" stroke="#0c0c0c" stroke-width="0.7"/>
<line x1="372.00" y1="380.90" x2="372.00" y2="378.70" stroke="#0c0c0c" stroke-width="0.7"/>
<line x1="376.00" y1="380.90" x2="376.00" y2="378.70" stroke="#0c0c0c" stroke-width="0.7"/>
<line x1="380.00" y1="380.90" x2="380.00" y2="378.70" stroke="#0c0c0c" stroke-width="0.7"/>
<line x1="383.00" y1="380.90" x2="383.00" y2="378.70" stroke="#0c0c0c" stroke-width="0.7"/>
<line x1="390.00" y1="382.20" x2="390.00" y2="380.00" stroke="#0c0c0c" stroke-width="0.7"/>
<line x1="395.00" y1="382.20" x2="395.00" y2="380.00" stroke="#0c0c0c" stroke-width="0.7"/>
<line x1="408.00" y1="383.60" x2="408.00" y2="381.40" stroke="#0c0c0c" stroke-width="0.7"/>
<line x1="412.00" y1="383.60" x2="412.00" y2="381.40" stroke="#0c0c0c" stroke-width="0.7"/>
<line x1="416.00" y1="383.60" x2="416.00" y2="381.40" stroke="#0c0c0c" stroke-width="0.7"/>
<line x1="420.00" y1="383.60" x2="420.00" y2="381.40" stroke="#0c0c0c" stroke-width="0.7"/>
<line x1="424.00" y1="383.60" x2="424.00" y2="381.40" stroke="#0c0c0c" stroke-width="0.7"/>
<polyline points="309.30,328.80 310.30,328.80 310.30,331.80 311.80,331.80 311.80,334.80 316.30,334.80 316.30,340.90 320.10,340.90 320.10,346.90 321.90,346.90 321.90,353.70 325.40,353.70 325.40,357.00 332.20,357.00 332.20,361.00 342.80,361.00 342.80,363.50 348.80,363.50 348.80,366.60 426.50,366.60" fill="none" stroke="#3aae3e" stroke-width="1.45" stroke-linejoin="round"/>
<line x1="352.00" y1="366.90" x2="352.00" y2="364.70" stroke="#3aae3e" stroke-width="0.7"/>
<line x1="357.00" y1="366.90" x2="357.00" y2="364.70" stroke="#3aae3e" stroke-width="0.7"/>
<line x1="363.50" y1="366.90" x2="363.50" y2="364.70" stroke="#3aae3e" stroke-width="0.7"/>
<line x1="367.30" y1="366.90" x2="367.30" y2="364.70" stroke="#3aae3e" stroke-width="0.7"/>
<line x1="370.40" y1="366.90" x2="370.40" y2="364.70" stroke="#3aae3e" stroke-width="0.7"/>
<line x1="375.80" y1="366.90" x2="375.80" y2="364.70" stroke="#3aae3e" stroke-width="0.7"/>
<line x1="380.40" y1="366.90" x2="380.40" y2="364.70" stroke="#3aae3e" stroke-width="0.7"/>
<line x1="425.00" y1="366.90" x2="425.00" y2="364.70" stroke="#3aae3e" stroke-width="0.7"/>
<text x="377.43" y="317.90" font-size="7.5" fill="#1e1e1e" stroke="#1e1e1e" stroke-width="0.12" textLength="56.82" lengthAdjust="spacingAndGlyphs">TCGA adult AML</text>
<line x1="377.20" y1="328.80" x2="393.00" y2="328.80" stroke="#3aae3e" stroke-width="1.3"/>
<line x1="385.10" y1="328.80" x2="385.10" y2="326.90" stroke="#3aae3e" stroke-width="0.7"/>
<line x1="377.20" y1="340.30" x2="393.00" y2="340.30" stroke="#0c0c0c" stroke-width="1.5"/>
<line x1="385.10" y1="340.30" x2="385.10" y2="338.40" stroke="#0c0c0c" stroke-width="0.7"/>
<text x="395.79" y="331.30" font-size="7.1" fill="#1e1e1e" stroke="#1e1e1e" stroke-width="0.12" textLength="68.38" lengthAdjust="spacingAndGlyphs">High <tspan font-style="italic">ARID3A</tspan> (n=22)</text>
<text x="395.80" y="342.70" font-size="7.1" fill="#1e1e1e" stroke="#1e1e1e" stroke-width="0.12" textLength="69.76" lengthAdjust="spacingAndGlyphs">Low <tspan font-style="italic">ARID3A</tspan> (n=149)</text>
<text x="312.22" y="390.70" font-size="7.7" fill="#1e1e1e" stroke="#1e1e1e" stroke-width="0.12" textLength="5.51" lengthAdjust="spacingAndGlyphs">P</text>
<text x="317.17" y="392.80" font-size="6.0" fill="#1e1e1e" stroke="#1e1e1e" stroke-width="0.12" textLength="25.62" lengthAdjust="spacingAndGlyphs">Log-rank</text>
<text x="345.60" y="390.70" font-size="7.7" fill="#1e1e1e" stroke="#1e1e1e" stroke-width="0.12" textLength="4.81" lengthAdjust="spacingAndGlyphs">=</text>
<text x="352.29" y="390.70" font-size="7.7" fill="#1e1e1e" stroke="#1e1e1e" stroke-width="0.12" textLength="20.16" lengthAdjust="spacingAndGlyphs">0.038</text>
<rect x="0.5" y="0.5" width="519" height="429" fill="none" stroke="#000" stroke-width="1.3"/>
</svg>
</body></html>
